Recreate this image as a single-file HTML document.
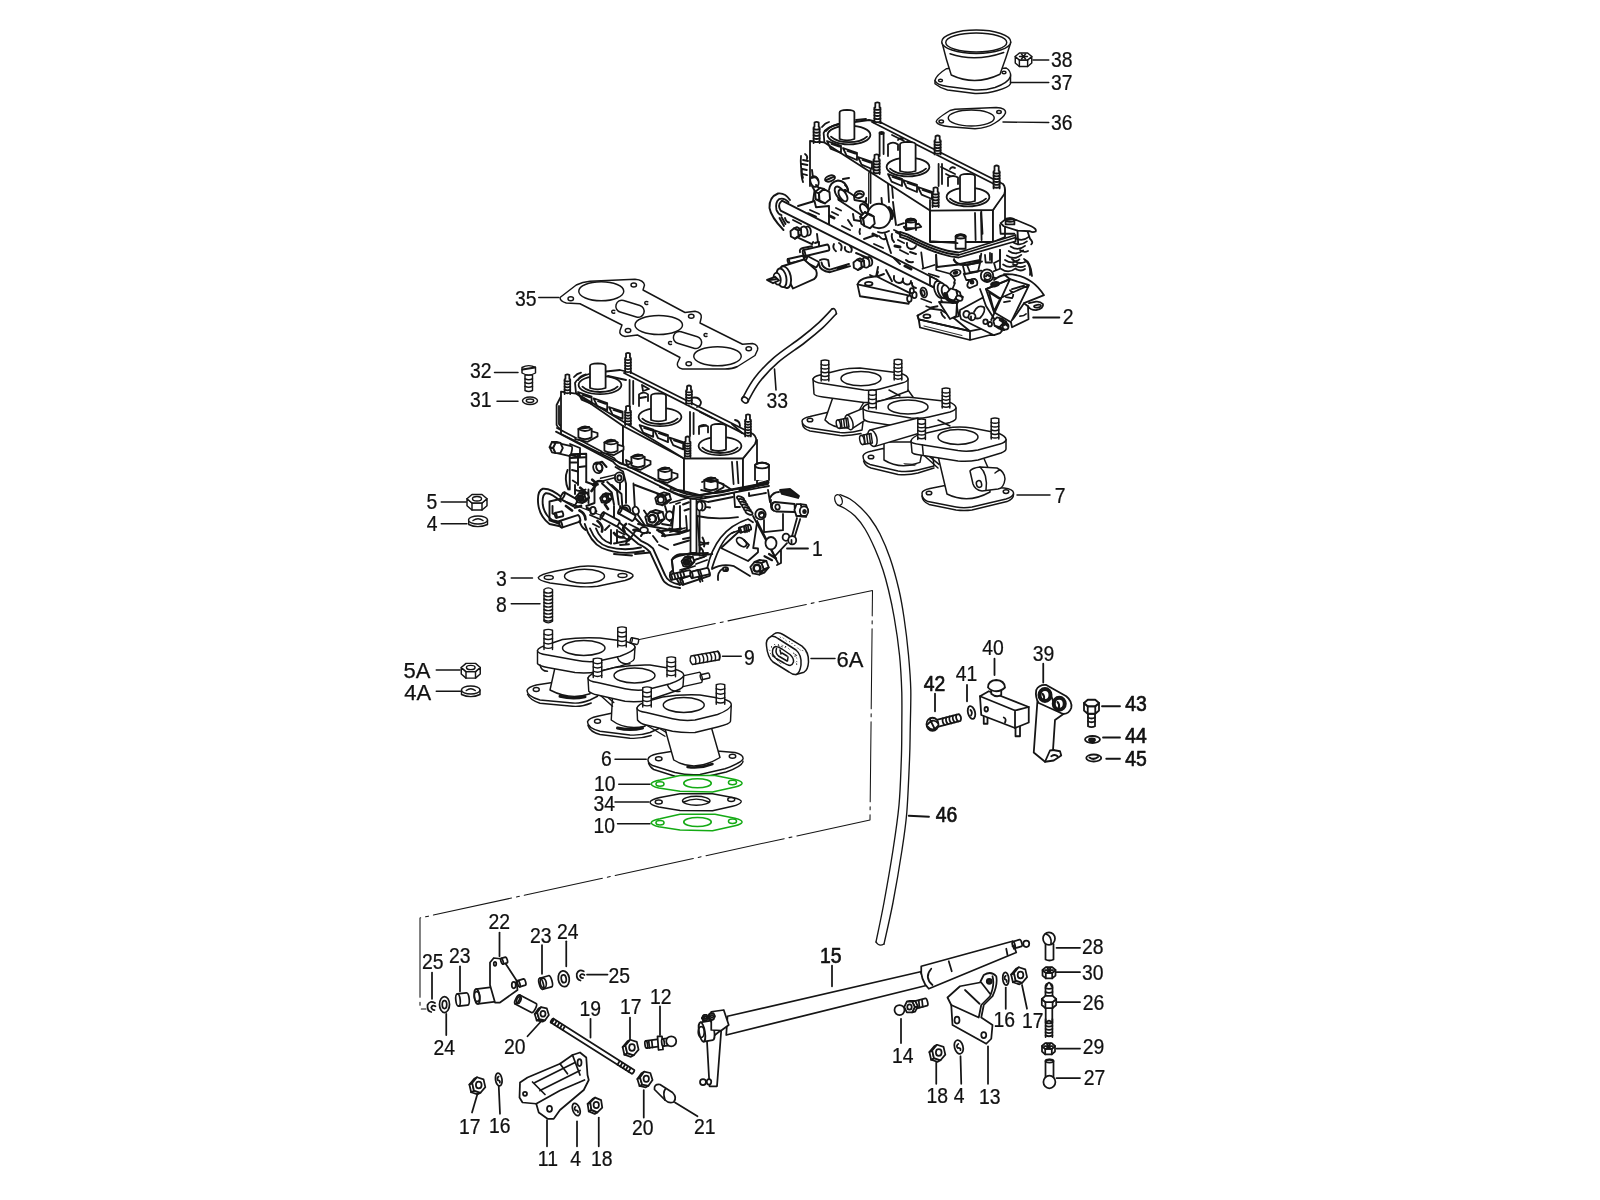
<!DOCTYPE html>
<html><head><meta charset="utf-8"><title>Parts diagram</title>
<style>
html,body{margin:0;padding:0;background:#fff;}
body{width:1600px;height:1200px;overflow:hidden;position:relative;}
svg{position:absolute;left:0;top:0;}
.ln{stroke:#151515;fill:none;stroke-width:1.4;stroke-linecap:round;stroke-linejoin:round;}
.tx{font-family:"Liberation Sans",sans-serif;fill:#111;stroke:none;}
</style></head><body>
<svg width="1600" height="1200" viewBox="0 0 1600 1200">
<g class="ln">
<g transform="translate(700,0) scale(0.25)" stroke-width="5.80" ><path d="M940,322 L940,335 Q960,352 990,360 L1100,374 Q1150,375 1190,362 Q1235,350 1242,335 L1242,300" fill="#fff" /><path d="M940,322 Q945,300 985,275 L1010,272 L1195,275 L1225,272 Q1245,285 1242,305 Q1235,330 1180,350 Q1140,362 1100,360 L990,346 Q945,340 940,322Z" fill="#fff" /><ellipse cx="962" cy="322" rx="8" ry="5" fill="none" /><ellipse cx="1216" cy="290" rx="8" ry="5" fill="none" /><path d="M968,170 Q985,240 1005,300 Q1100,345 1200,297 Q1225,230 1243,170Z" fill="#fff" /><ellipse cx="1105" cy="167" rx="138" ry="47" fill="#fff" /><ellipse cx="1105" cy="170" rx="122" ry="38" fill="none" /><path d="M1000,215 Q1100,250 1215,210" fill="none" /><path d="M1261.0,226.0 L1261.0,252.0 L1277.5,266.3 L1310.5,266.3 L1327.0,252.0 L1327.0,226.0 L1310.5,240.3 L1277.5,240.3 L1261.0,226.0" fill="#fff" /><path d="M1327.0,226.0 L1310.5,240.3 L1277.5,240.3 L1261.0,226.0 L1277.5,211.7 L1310.5,211.7Z" fill="#fff" /><path d="M1277.5,240.3 l0,26.0 M1310.5,240.3 l0,26.0" fill="none" /><path d="M1278,226 l32,0 M1286,216 l16,20 M1302,216 l-16,20" fill="none" /><path d="M1332,240 L1395,240" fill="none" /><path d="M1242,330 L1395,330" fill="none" /><path d="M1212,488 L1395,490" fill="none" /><path d="M945,487 Q945,475 1000,442 L1020,437 L1185,430 Q1225,432 1222,452 Q1215,470 1180,492 Q1150,512 1100,515 L1000,507 Q950,502 945,487Z" fill="#fff" /><ellipse cx="1085" cy="472" rx="92" ry="32" fill="none" /><ellipse cx="965" cy="486" rx="9" ry="6" fill="none" /><ellipse cx="1196" cy="448" rx="9" ry="6" fill="none" /></g>
<g transform="translate(400,250) scale(0.25)" stroke-width="5.80" ><path d="M640,190 L705,140 Q730,128 760,125 L940,117 Q975,120 978,140 L972,160 L1140,250 L1180,245 Q1208,250 1205,270 L1200,292 L1370,377 L1410,374 Q1435,380 1430,400 L1420,422 L1350,466 Q1330,476 1300,476 L1130,476 Q1105,470 1110,452 L1120,430 L950,340 L900,346 Q875,340 880,322 L888,300 L720,215 L665,212 Q640,205 640,190Z" fill="#fff" /><ellipse cx="805" cy="165" rx="90" ry="38" fill="none" /><ellipse cx="1035" cy="300" rx="95" ry="38" fill="none" /><ellipse cx="1270" cy="425" rx="95" ry="38" fill="none" /><rect x="862" y="211" width="116" height="48" rx="24" fill="none" transform="rotate(17 920 235)"/><rect x="1092" y="336" width="116" height="48" rx="24" fill="none" transform="rotate(17 1150 360)"/><ellipse cx="683" cy="195" rx="11" ry="8" fill="none" /><ellipse cx="935" cy="140" rx="11" ry="8" fill="none" /><ellipse cx="912" cy="322" rx="11" ry="8" fill="none" /><ellipse cx="1165" cy="265" rx="11" ry="8" fill="none" /><ellipse cx="1155" cy="455" rx="11" ry="8" fill="none" /><ellipse cx="1395" cy="395" rx="11" ry="8" fill="none" /><path d="M859,242 q-12,-3 -12,5 q2,8 12,5" fill="none" /><path d="M991,207 q-12,-3 -12,5 q2,8 12,5" fill="none" /><path d="M1086,367 q-12,-3 -12,5 q2,8 12,5" fill="none" /><path d="M1228,335 q-12,-3 -12,5 q2,8 12,5" fill="none" /><path d="M555,190 L635,190" fill="none" /><path d="M500,500 L500,562 Q515,570 530,562 L530,500Z" fill="#fff" /><path d="M500,515 q15,8 30,0 M500,530 q15,8 30,0 M500,545 q15,8 30,0" fill="none" /><path d="M488,492 L488,470 Q515,455 542,470 L542,492 Q515,508 488,492Z" fill="#fff" /><path d="M490,478 L540,470" fill="none" stroke-width="9"/><path d="M378,490 L472,490" fill="none" /><ellipse cx="520" cy="603" rx="30" ry="15" fill="#fff" /><ellipse cx="520" cy="603" rx="15" ry="7" fill="none" /><path d="M388,605 L472,605" fill="none" /><path d="M268.0,995.0 L268.0,1023.0 L288.0,1040.3 L328.0,1040.3 L348.0,1023.0 L348.0,995.0 L328.0,1012.3 L288.0,1012.3 L268.0,995.0" fill="#fff" /><path d="M348.0,995.0 L328.0,1012.3 L288.0,1012.3 L268.0,995.0 L288.0,977.7 L328.0,977.7Z" fill="#fff" /><path d="M288.0,1012.3 l0,28.0 M328.0,1012.3 l0,28.0" fill="none" /><ellipse cx="308" cy="995" rx="18.0" ry="9.0" fill="none" /><path d="M165,1008 L265,1008" fill="none" /><path d="M275,1080 L275,1098 Q310,1115 350,1098 L350,1080" fill="#fff" /><ellipse cx="312" cy="1080" rx="38" ry="16" fill="#fff" /><path d="M292,1082 Q312,1068 332,1082" fill="none" /><path d="M165,1095 L268,1095" fill="none" /></g>
<g transform="translate(0,0) scale(1)" stroke-width="1.60" ><path d="M747.7,401.6 C749.7,398.4 754.5,388.5 759.5,382.0 C764.6,375.4 770.5,369.0 778.1,362.4 C785.7,355.8 797.5,348.4 805.0,342.5 C812.5,336.7 817.9,332.2 823.2,327.4 C828.4,322.6 834.1,316.0 836.3,313.7" fill="none" /><path d="M742.3,398.4 C744.3,395.0 749.2,384.8 754.5,378.0 C759.7,371.2 766.1,364.3 773.9,357.6 C781.7,350.8 793.5,343.3 801.0,337.5 C808.5,331.7 813.7,327.3 818.8,322.6 C823.9,317.9 829.6,311.5 831.7,309.3" fill="none" /><path d="M831.5,309.2 Q835.5,307 836.5,313.8" fill="none" /><ellipse cx="745" cy="400" rx="3.6" ry="2.6" fill="none" transform="rotate(35 745 400)" /><path d="M774.5,369 L776,390" fill="none" /></g>
<g transform="translate(0,0) scale(1)" stroke-width="1.35" ><path d="M637,640 L872.5,590.5 L870,820 L420,918 L420,1009 L426,1009" fill="none" stroke-dasharray="80 5 3 5" stroke-width="1.05"/><path d="M840.0,494.5 C841.7,495.2 846.7,496.9 850.0,499.0 C853.3,501.1 856.7,503.8 860.0,507.0 C863.3,510.2 866.7,513.5 870.0,518.0 C873.3,522.5 876.7,527.3 880.0,534.0 C883.3,540.7 886.8,548.7 890.0,558.0 C893.2,567.3 896.7,580.1 899.0,590.0 C901.3,599.9 902.4,606.7 904.0,617.5 C905.6,628.3 907.4,642.9 908.5,655.0 C909.6,667.1 910.5,677.5 910.8,690.0 C911.0,702.5 910.4,718.3 910.2,730.0 C910.0,741.7 910.1,746.2 909.5,760.0 C908.9,773.8 908.0,797.5 906.8,812.5 C905.5,827.5 904.3,835.0 902.0,850.0 C899.7,865.0 896.0,886.8 893.0,902.5 C890.0,918.2 885.5,937.1 884.0,944.0" fill="none" /><path d="M837.5,505.0 C838.8,505.6 842.1,506.7 845.0,508.5 C847.9,510.3 851.7,512.6 855.0,516.0 C858.3,519.4 861.7,523.5 865.0,529.0 C868.3,534.5 872.0,542.2 875.0,549.0 C878.0,555.8 880.8,563.2 883.0,570.0 C885.2,576.8 886.6,582.1 888.5,590.0 C890.4,597.9 892.4,606.7 894.2,617.5 C896.1,628.3 898.2,642.5 899.5,655.0 C900.8,667.5 901.4,680.0 901.8,692.5 C902.1,705.0 901.8,718.8 901.8,730.0 C901.7,741.2 901.8,747.5 901.3,760.0 C900.8,772.5 900.4,790.0 899.0,805.0 C897.6,820.0 895.5,833.8 893.0,850.0 C890.5,866.2 886.8,887.2 884.0,902.5 C881.2,917.8 877.3,935.4 876.0,942.0" fill="none" /><ellipse cx="838.5" cy="500" rx="3.5" ry="5.5" fill="none" transform="rotate(-20 838.5 500)" /><path d="M876,942 Q879,947 884,944" fill="none" /></g>
<g transform="translate(760,90) scale(0.2)" stroke-width="9.00" ><path d="M250,255 L250,480 L330,560 L545,640 L545,415 L322,262Z" fill="#fff" stroke="none"/><path d="M250,480 L250,255 L322,262 M545,415 L545,600" fill="none" /><path d="M205,330 Q200,380 215,440 M225,320 Q240,330 235,345 M215,350 l25,5 M212,370 l25,5 M212,395 l22,5 M215,420 l20,6" fill="none" /><path d="M545,415 L545,640 L850,790 L850,600Z" fill="#fff" stroke="none"/><path d="M850,600 L850,760 L1165,760 L1165,600Z" fill="#fff" /><path d="M1165,600 L1165,760 L1225,735 L1225,500Z" fill="#fff" /><path d="M1075,615 L1078,750 M1105,615 L1108,750" fill="none" /><path d="M640,470 L645,560 M660,480 L665,540" fill="none" /><path d="M322,262 L318,215 Q330,185 400,170 L545,150 L610,165 L1215,470 Q1230,485 1222,520 L1165,600 L850,603 Z" fill="#fff" /><path d="M330,205 Q350,175 420,165 M560,160 L1190,480" fill="none" /><path d="M335,255 l70,24 l0,36 l-52,-22Z M357,269 l40,14" fill="none" /><path d="M415,290 l70,24 l0,36 l-52,-22Z M437,304 l40,14" fill="none" /><path d="M490,335 l70,24 l0,36 l-52,-22Z M512,349 l40,14" fill="none" /><path d="M640,420 l70,24 l0,36 l-52,-22Z M662,434 l40,14" fill="none" /><path d="M715,450 l70,24 l0,36 l-52,-22Z M737,464 l40,14" fill="none" /><path d="M790,485 l70,24 l0,36 l-52,-22Z M812,499 l40,14" fill="none" /><path d="M660,225 l60,30 M690,250 q10,-15 25,-5 M905,385 l70,35 M950,395 q10,-15 25,-5 M930,420 l40,20" fill="none" /><path d="M640,330 L640,272 Q665,255 690,272 L690,300" fill="#fff" /><path d="M940,480 L940,438 Q965,422 990,438 L990,470" fill="#fff" /><ellipse cx="445" cy="225" rx="107" ry="47" fill="#fff" /><path d="M355,233 Q385,261 445,261 Q505,261 535,233" fill="none" /><ellipse cx="740" cy="385" rx="107" ry="47" fill="#fff" /><path d="M650,393 Q680,421 740,421 Q800,421 830,393" fill="none" /><ellipse cx="1040" cy="535" rx="107" ry="47" fill="#fff" /><path d="M950,543 Q980,571 1040,571 Q1100,571 1130,543" fill="none" /><path d="M398,245 L398,112 Q398,100 435.0,99 Q472,100 472,112 L472,245 Q435.0,259 398,245Z" fill="#fff" /><path d="M700,405 L700,272 Q700,260 739.0,259 Q778,260 778,272 L778,405 Q739.0,419 700,405Z" fill="#fff" /><path d="M1000,555 L1000,432 Q1000,420 1037.5,419 Q1075,420 1075,432 L1075,555 Q1037.5,569 1000,555Z" fill="#fff" /><path d="M598,215 L598,330 M618,215 L618,320 M893,370 L893,480 M910,370 L910,470" fill="none" /><ellipse cx="608" cy="215" rx="10" ry="5" fill="none" /><g><path d="M268.0,265 L268.0,186.25 L272.5,184.25 L272.5,163 Q283,156 293.5,163 L293.5,184.25 L298.0,186.25 L298.0,265" fill="#fff" /><path d="M268.0,194.125 Q283,201.625 298.0,194.125" fill="none" /><path d="M268.0,209.875 Q283,217.375 298.0,209.875" fill="none" /><path d="M268.0,225.625 Q283,233.125 298.0,225.625" fill="none" /><path d="M268.0,241.375 Q283,248.875 298.0,241.375" fill="none" /><path d="M268.0,257.125 Q283,264.625 298.0,257.125" fill="none" /></g><g><path d="M572.0,165 L572.0,87.75 L576.5,85.75 L576.5,65 Q587,58 597.5,65 L597.5,85.75 L602.0,87.75 L602.0,165" fill="#fff" /><path d="M572.0,95.475 Q587,102.975 602.0,95.475" fill="none" /><path d="M572.0,110.925 Q587,118.425 602.0,110.925" fill="none" /><path d="M572.0,126.375 Q587,133.875 602.0,126.375" fill="none" /><path d="M572.0,141.825 Q587,149.325 602.0,141.825" fill="none" /><path d="M572.0,157.275 Q587,164.775 602.0,157.275" fill="none" /></g><g><path d="M568.0,420 L568.0,346.5 L572.5,344.5 L572.5,325 Q583,318 593.5,325 L593.5,344.5 L598.0,346.5 L598.0,420" fill="#fff" /><path d="M568.0,353.85 Q583,361.35 598.0,353.85" fill="none" /><path d="M568.0,368.55 Q583,376.05 598.0,368.55" fill="none" /><path d="M568.0,383.25 Q583,390.75 598.0,383.25" fill="none" /><path d="M568.0,397.95 Q583,405.45 598.0,397.95" fill="none" /><path d="M568.0,412.65 Q583,420.15 598.0,412.65" fill="none" /></g><g><path d="M873.0,322 L873.0,251.5 L877.5,249.5 L877.5,231 Q888,224 898.5,231 L898.5,249.5 L903.0,251.5 L903.0,322" fill="#fff" /><path d="M873.0,258.55 Q888,266.05 903.0,258.55" fill="none" /><path d="M873.0,272.65 Q888,280.15 903.0,272.65" fill="none" /><path d="M873.0,286.75 Q888,294.25 903.0,286.75" fill="none" /><path d="M873.0,300.85 Q888,308.35 903.0,300.85" fill="none" /><path d="M873.0,314.95 Q888,322.45 903.0,314.95" fill="none" /></g><g><path d="M863.0,585 L863.0,511.5 L867.5,509.5 L867.5,490 Q878,483 888.5,490 L888.5,509.5 L893.0,511.5 L893.0,585" fill="#fff" /><path d="M863.0,518.85 Q878,526.35 893.0,518.85" fill="none" /><path d="M863.0,533.55 Q878,541.05 893.0,533.55" fill="none" /><path d="M863.0,548.25 Q878,555.75 893.0,548.25" fill="none" /><path d="M863.0,562.95 Q878,570.45 893.0,562.95" fill="none" /><path d="M863.0,577.65 Q878,585.15 893.0,577.65" fill="none" /></g><g><path d="M1168.0,492 L1168.0,406.5 L1172.5,404.5 L1172.5,381 Q1183,374 1193.5,381 L1193.5,404.5 L1198.0,406.5 L1198.0,492" fill="#fff" /><path d="M1168.0,413.625 Q1183,421.125 1198.0,413.625" fill="none" /><path d="M1168.0,427.875 Q1183,435.375 1198.0,427.875" fill="none" /><path d="M1168.0,442.125 Q1183,449.625 1198.0,442.125" fill="none" /><path d="M1168.0,456.375 Q1183,463.875 1198.0,456.375" fill="none" /><path d="M1168.0,470.625 Q1183,478.125 1198.0,470.625" fill="none" /><path d="M1168.0,484.875 Q1183,492.375 1198.0,484.875" fill="none" /></g><path d="M310,185 q15,-20 35,-25 M480,150 l50,-5" fill="none" /></g>
<g transform="translate(760,170) scale(0.1)" stroke-width="19.00" ><path d="M415,0 Q408,50 430,120 M520,0 L530,80 M380,360 L530,315 L545,210 M690,360 L690,540 M545,310 L560,372 L690,360 M500,400 l90,40 M480,432 l80,35" fill="none" /><path d="M1105,0 L1105,330" fill="none" /><path d="M1340,600 L1600,722 M1360,622 L1600,745 M1380,552 l60,-20" fill="none" /><path d="M1180,620 Q1230,642 1290,610 M1190,660 q30,40 60,30 M1250,640 L1280,740 L1310,830 M1040,690 l100,-35 M1140,740 l90,40 M1000,590 q-10,30 0,50" fill="none" /><path d="M1215,280 l5,60 M1330,320 l10,80 l20,150" fill="none" /><path d="M1460,600 L1460,510 Q1510,480 1560,510 L1560,600" fill="#fff" /><ellipse cx="1510" cy="512" rx="50" ry="20" fill="none" /><path d="M1475,515 l70,-10" fill="none" stroke-width="20"/><path d="M1470,730 q-10,50 40,60 q40,0 50,-30" fill="none" /><ellipse cx="545" cy="115" rx="40" ry="55" fill="#fff" transform="rotate(-20 545 115)" /><path d="M520,80 q40,-20 60,20" fill="none" /><path d="M560,150 L610,200 M520,160 L560,230" fill="none" /><path d="M650.3,333.7 L594.9,303.3 L556.9,291.3 L612.3,321.7Z" fill="#fff" /><path d="M594.9,303.3 L589.5,231.6 L551.5,219.6 L556.9,291.3Z" fill="#fff" /><path d="M589.5,231.6 L639.7,190.3 L601.7,178.3 L551.5,219.6Z" fill="#fff" /><path d="M700.5,292.4 L650.3,333.7 L594.9,303.3 L589.5,231.6 L639.7,190.3 L695.1,220.7Z" fill="#fff" /><ellipse cx="700" cy="85" rx="52" ry="28" fill="#fff" transform="rotate(-20 700 85)" /><path d="M665,100 L735,68" fill="none" stroke-width="20"/><path d="M690,200 Q700,120 780,105 Q860,110 880,200" fill="#fff" /><path d="M830,90 l60,-10 M850,150 q30,20 30,60" fill="none" stroke-width="20"/><g transform="translate(820,250) rotate(33.4)"><path d="M0,-60.0 L263.5,-60.0 A18.0,60.0 0 0 1 263.5,60.0 L0,60.0 A18.0,60.0 0 0 1 0,-60.0Z" fill="#fff" /><path d="M0,-60.0 A18.0,60.0 0 0 1 0,60.0" fill="none" /></g><ellipse cx="800" cy="235" rx="40" ry="78" fill="#fff" transform="rotate(-32 800 235)" /><ellipse cx="830" cy="255" rx="34" ry="66" fill="#fff" transform="rotate(-32 830 255)" /><ellipse cx="1045" cy="398" rx="36" ry="64" fill="#fff" transform="rotate(-32 1045 398)" /><path d="M930,440 l10,60 l60,10" fill="none" /><path d="M940,262 L945,300 L1060,320 L1062,280" fill="#fff" /><ellipse cx="992" cy="245" rx="48" ry="34" fill="#fff" transform="rotate(-15 992 245)" /><path d="M960,255 q30,-35 60,-10" fill="none" stroke-width="20"/><ellipse cx="1190" cy="460" rx="118" ry="122" fill="#fff" /><path d="M1290,375 Q1345,430 1318,485" fill="none" stroke-width="28"/><path d="M1043.1,558.3 L1032.5,487.4 L1002.5,467.4 L1013.1,538.3Z" fill="#fff" /><path d="M1032.5,487.4 L1079.4,441.1 L1049.4,421.1 L1002.5,467.4Z" fill="#fff" /><path d="M1079.4,441.1 L1136.9,465.7 L1106.9,445.7 L1049.4,421.1Z" fill="#fff" /><path d="M1147.5,536.6 L1100.6,582.9 L1043.1,558.3 L1032.5,487.4 L1079.4,441.1 L1136.9,465.7Z" fill="#fff" /><ellipse cx="478" cy="610" rx="30" ry="45" fill="#fff" transform="rotate(-10 478 610)" /><ellipse cx="440" cy="617" rx="36" ry="52" fill="#fff" transform="rotate(-10 440 617)" /><path d="M385.1,657.0 L348.9,686.8 L376.9,674.8 L413.1,645.0Z" fill="#fff" /><path d="M341.1,583.2 L381.2,605.2 L409.2,593.2 L369.1,571.2Z" fill="#fff" /><path d="M381.2,605.2 L385.1,657.0 L413.1,645.0 L409.2,593.2Z" fill="#fff" /><path d="M385.1,657.0 L348.9,686.8 L308.8,664.8 L304.9,613.0 L341.1,583.2 L381.2,605.2Z" fill="#fff" /><path d="M250,480 q10,40 40,45 M330,500 l80,40 M390,682 l130,60 l12,-22 M570,640 l10,80 l-30,10 M590,720 l0,40" fill="none" /><path d="M300,300 Q250,225 180,235 Q90,270 95,380 Q110,470 235,600 M285,322 Q240,272 190,292 Q150,322 165,400 Q180,440 215,452 M195,480 L240,560 M215,470 L255,540" fill="none" /><path d="M219,306 L1775,1100 L1731,1172 L206,406 Q170,350 219,306Z" fill="#fff" /><path d="M400,822 Q390,790 430,780 L520,762" fill="none" /><g transform="translate(440,832) rotate(-13.4)"><path d="M0,-31.0 L246.7,-31.0 A10.8,31.0 0 0 1 246.7,31.0 L0,31.0 A10.8,31.0 0 0 1 0,-31.0Z" fill="#fff" /><path d="M0,-31.0 A10.8,31.0 0 0 1 0,31.0" fill="none" /></g><g transform="translate(285,912) rotate(-12.4)"><path d="M0,-23.0 L148.5,-23.0 A8.0,23.0 0 0 1 148.5,23.0 L0,23.0 A8.0,23.0 0 0 1 0,-23.0Z" fill="#fff" /><path d="M0,-23.0 A8.0,23.0 0 0 1 0,23.0" fill="none" /></g><g transform="translate(455,885) rotate(27.6)"><path d="M0,-31.0 L129.7,-31.0 A10.8,31.0 0 0 1 129.7,31.0 L0,31.0 A10.8,31.0 0 0 1 0,-31.0Z" fill="#fff" /><path d="M0,-31.0 A10.8,31.0 0 0 1 0,31.0" fill="none" /></g><path d="M600,902 Q640,880 682,902 L692,962" fill="#fff" /><path d="M215,965 L440,895 L560,1000 Q582,1060 540,1092 L330,1185Z" fill="#fff" /><ellipse cx="250" cy="1072" rx="58" ry="110" fill="#fff" transform="rotate(-12 250 1072)" /><ellipse cx="215" cy="1078" rx="48" ry="95" fill="#fff" transform="rotate(-12 215 1078)" /><ellipse cx="172" cy="1087" rx="34" ry="60" fill="#fff" transform="rotate(-12 172 1087)" /><path d="M150,1068 L70,1100 L130,1132 L190,1105Z" fill="#fff" /><path d="M90,1100 l70,-8" fill="none" /><path d="M590,940 Q600,1012 700,1022 L900,962 M615,925 Q625,987 700,997 L890,940" fill="none" /><path d="M780,985 l80,-25" fill="none" stroke-width="26"/><path d="M740,740 Q720,780 760,812 M790,730 q40,20 20,72 M850,770 q-10,40 40,52 M900,760 q30,30 10,60" fill="none" /><ellipse cx="1092" cy="915" rx="30" ry="45" fill="#fff" transform="rotate(-10 1092 915)" /><ellipse cx="1058" cy="925" rx="36" ry="52" fill="#fff" transform="rotate(-10 1058 925)" /><path d="M1015.1,970.0 L978.9,999.8 L1006.9,987.8 L1043.1,958.0Z" fill="#fff" /><path d="M971.1,896.2 L1011.2,918.2 L1039.2,906.2 L999.1,884.2Z" fill="#fff" /><path d="M1011.2,918.2 L1015.1,970.0 L1043.1,958.0 L1039.2,906.2Z" fill="#fff" /><path d="M1015.1,970.0 L978.9,999.8 L938.8,977.8 L934.9,926.0 L971.1,896.2 L1011.2,918.2Z" fill="#fff" /><path d="M960,830 L1080,880 M1020,860 l60,30" fill="none" /><path d="M1100,1050 l60,30 l20,-60 M1180,970 l-20,100 l80,-30 M1260,1000 l60,112 M1340,1060 q-10,60 50,70 q40,0 40,-40 M1430,1085 q-10,50 40,60 q40,0 40,-35 M1520,1130 q-5,40 40,50" fill="none" /><path d="M720,420 l60,30 M760,380 l50,25 M880,500 l40,60 M820,560 l80,40 M1320,640 q-10,50 20,80 M1380,700 l60,30 M1400,800 l80,40 M1340,880 l60,60 M1460,900 q30,30 70,20 M1500,820 l60,20" fill="none" /><path d="M700,460 l40,20 M1130,640 l40,20 M1350,760 l50,10 M1450,960 l60,30" fill="none" stroke-width="30"/></g>
<g transform="translate(760,180) scale(0.125)" stroke-width="14.40" ><path d="M780,835 Q790,795 860,780 L930,770 L1200,905 L1190,990 L800,930Z" fill="#fff" /><path d="M780,835 L1195,925" fill="none" /><ellipse cx="870" cy="830" rx="30" ry="15" fill="none" /><ellipse cx="1195" cy="950" rx="18" ry="25" fill="#fff" /><ellipse cx="1235" cy="920" rx="18" ry="25" fill="#fff" /><ellipse cx="1215" cy="885" rx="16" ry="20" fill="#fff" /><ellipse cx="1310" cy="900" rx="25" ry="40" fill="#fff" transform="rotate(-15 1310 900)" /><ellipse cx="1305" cy="903" rx="12" ry="22" fill="none" transform="rotate(-15 1305 903)" /><path d="M1290,950 l80,30 M1330,1010 l60,20" fill="none" /></g>
<g transform="translate(900,200) scale(0.125)" stroke-width="14.40" ><path d="M170,420 L185,540 M290,440 L290,560 L400,590 M180,550 l95,-30 M230,590 l80,25 M430,480 Q450,520 520,520 L640,500 L650,430 M540,530 l20,50 l90,-15 M680,440 l5,60 l50,0 l0,-70 M800,400 l0,150 l-50,20" fill="none" /><path d="M510,590 L530,640 L600,640 M330,800 L400,950 L470,930 L450,830 M250,860 L300,850" fill="none" /><path d="M915,300 Q975,340 1030,295" fill="none" /><path d="M900,336 Q960,376 1015,331" fill="none" /><path d="M885,372 Q945,412 1000,367" fill="none" /><path d="M870,408 Q930,448 985,403" fill="none" /><path d="M855,444 Q915,484 970,439" fill="none" /><path d="M840,480 Q900,520 955,475" fill="none" /><path d="M825,516 Q885,556 940,511" fill="none" /><path d="M810,552 Q870,592 925,547" fill="none" /><path d="M1020,250 l20,60 q30,30 10,45 M1000,480 q50,40 40,120" fill="none" /><path d="M805,185 L850,150 L930,160 L1050,210 Q1095,232 1085,252 Q1060,262 1040,250 L940,245 L830,210Z" fill="#fff" /><path d="M800,200 l5,70 l110,0 M940,245 l5,100" fill="none" /><path d="M845,195 L845,160 Q880,135 915,160 L915,195Z" fill="#fff" /><ellipse cx="880" cy="160" rx="35" ry="15" fill="none" /><path d="M855,160 l50,-5" fill="none" /><path d="M0,255 L60,275 Q300,405 470,420 L925,280 L925,330 L470,460 Q300,445 60,315 L0,295Z" fill="#fff" /><path d="M0,275 L60,295 Q300,425 470,440 L925,300" fill="none" /><path d="M30,215 L150,190 L170,215 L50,240Z" fill="#fff" /><path d="M50,225 L50,165 Q85,135 125,165 L125,225Z" fill="#fff" /><ellipse cx="87" cy="165" rx="37" ry="15" fill="none" /><path d="M60,168 l55,-8" fill="none" /><path d="M445,390 L445,290 Q485,260 525,290 L525,390Z" fill="#fff" /><ellipse cx="485" cy="292" rx="40" ry="16" fill="none" /><path d="M455,290 q30,-20 60,0" fill="none" stroke-width="20"/><path d="M650,90 L660,270 M240,0 L240,330 L460,345" fill="none" /><path d="M1065,940 L1275,940" fill="none" /></g>
<g transform="translate(930,250) scale(0.1)" stroke-width="18.00" ><path d="M60,50 L70,170 L330,140 M240,90 Q250,130 300,140 L500,100 L500,60 M330,160 L350,240 L480,215 L500,130 M370,150 L520,115 M600,30 L600,100 M700,0 L700,100 L640,130 L660,200" fill="none" /><path d="M-125,656 L0,587 L112,600 L250,690 L400,812 L-112,694Z" fill="#fff" /><path d="M-125,656 L-112,700 L-100,775 L400,900 L600,850 L640,852 M-112,694 L400,812 L400,900 M400,812 L600,772" fill="none" /><ellipse cx="-31" cy="662" rx="35" ry="18" fill="none" /><path d="M-60,760 l380,95" fill="none" stroke-width="9"/><path d="M90,520 L200,690 L262,660 L270,530Z" fill="#fff" /><path d="M110,620 q10,40 40,60" fill="none" /><path d="M250,330 L220,400 L330,470 M500,390 L530,470 M560,300 Q620,262 660,282" fill="none" /><ellipse cx="255" cy="230" rx="52" ry="30" fill="#fff" transform="rotate(-15 255 230)" /><ellipse cx="255" cy="228" rx="20" ry="10" fill="#1a1a1a" transform="rotate(-15 255 228)" /><path d="M215,250 L250,300 L240,330" fill="none" /><path d="M0,262 L75,300 L40,372 L0,352Z" fill="#fff" /><ellipse cx="95" cy="395" rx="50" ry="88" fill="#fff" transform="rotate(-18 95 395)" /><ellipse cx="125" cy="405" rx="45" ry="80" fill="#fff" transform="rotate(-18 125 405)" /><ellipse cx="160" cy="420" rx="40" ry="70" fill="#fff" transform="rotate(-18 160 420)" /><path d="M275.9,461.0 L236.4,504.9 L274.4,526.9 L313.9,483.0Z" fill="#fff" /><path d="M236.4,504.9 L182.5,488.8 L220.5,510.8 L274.4,526.9Z" fill="#fff" /><path d="M261.5,401.2 L275.9,461.0 L313.9,483.0 L299.5,423.2Z" fill="#fff" /><path d="M275.9,461.0 L236.4,504.9 L182.5,488.8 L168.1,429.0 L207.6,385.1 L261.5,401.2Z" fill="#fff" /><path d="M150,440 Q160,500 230,520" fill="none" stroke-width="40"/><ellipse cx="292" cy="482" rx="34" ry="24" fill="#fff" transform="rotate(20 292 482)" /><path d="M380,330 Q400,282 450,290 Q482,310 470,350 L400,380 Q360,372 380,330Z" fill="#fff" /><ellipse cx="420" cy="322" rx="15" ry="15" fill="none" /><path d="M412,322 q8,-12 18,0" fill="none" /><path d="M300,600 L530,475 L560,560 L720,810 L700,832 L640,852 L310,690 Q290,640 300,600Z" fill="#fff" /><ellipse cx="365" cy="642" rx="32" ry="34" fill="#fff" /><ellipse cx="420" cy="667" rx="35" ry="36" fill="#fff" /><path d="M410,665 l0,30" fill="none" /><path d="M440,620 Q480,540 540,572 Q560,620 500,680 Q470,690 450,680" fill="none" /><ellipse cx="555" cy="717" rx="22" ry="24" fill="#fff" /><ellipse cx="600" cy="742" rx="20" ry="22" fill="#fff" /><ellipse cx="570" cy="257" rx="62" ry="64" fill="#fff" /><ellipse cx="575" cy="262" rx="34" ry="36" fill="none" /><path d="M560,262 q15,-25 35,0 M545,300 q20,20 50,10" fill="none" stroke-width="22"/><path d="M740,242 Q1000,232 1140,452 L1040,492 L940,532 L810,722 L640,622 L560,392 L800,292Z" fill="#fff" /><path d="M560,392 L800,292 L990,352 L810,722 M560,392 L700,482 L990,352 M800,292 L612,700 M590,422 L700,492 L640,612Z M820,392 L940,357 M800,402 Q852,440 820,482 L760,472 M740,522 l60,-10 M640,300 Q700,250 760,250" fill="none" /><ellipse cx="650" cy="342" rx="40" ry="22" fill="#1a1a1a" transform="rotate(-10 650 342)" /><path d="M940,532 L980,562 Q1000,602 1060,602 Q1140,582 1130,542 Q1100,512 1060,517 L990,532" fill="#fff" /><ellipse cx="1075" cy="562" rx="35" ry="14" fill="none" transform="rotate(-8 1075 562)" /><path d="M980,562 L985,692 L820,772 L810,722" fill="#fff" /><path d="M900,662 q40,0 60,-22" fill="none" /><path d="M730.3,734.9 L694.9,770.3 L739.9,800.3 L775.3,764.9Z" fill="#fff" /><path d="M694.9,770.3 L646.6,757.4 L691.6,787.4 L739.9,800.3Z" fill="#fff" /><path d="M717.4,686.6 L730.3,734.9 L775.3,764.9 L762.4,716.6Z" fill="#fff" /><path d="M730.3,734.9 L694.9,770.3 L646.6,757.4 L633.7,709.1 L669.1,673.7 L717.4,686.6Z" fill="#fff" /><ellipse cx="755" cy="765" rx="30" ry="32" fill="#fff" /><path d="M700,700 l50,30 M735,750 q20,-20 40,5" fill="none" stroke-width="26"/><path d="M820,90 q60,60 130,30 M830,140 q60,50 120,20 M860,190 q50,30 90,0 M940,90 Q1010,120 1020,260 M900,0 q40,30 80,10" fill="none" /></g>
<g transform="translate(780,330) scale(0.2)" stroke-width="7.50" ><path d="M110,455 Q112,440 150,432 L235,412 L420,420 L410,500 Q350,517 300,512 L150,490 Q110,480 110,455Z" fill="#fff" /><path d="M112,470 Q115,495 150,505 L300,528 Q350,530 405,518" fill="none" /><ellipse cx="150" cy="450" rx="14" ry="9" fill="none" /><path d="M265,335 L225,450 Q260,492 345,490 L420,360Z" fill="#fff" /><path d="M165,245 L170,320 Q175,330 215,335 L420,362 Q470,365 520,350 L640,305 L640,245Z" fill="#fff" /><path d="M165,245 Q170,232 200,225 L300,200 Q340,190 400,190 L600,215 Q640,228 640,245 Q638,258 610,265 L500,295 Q460,305 420,300 L215,268 Q165,262 165,245Z" fill="#fff" /><ellipse cx="405" cy="243" rx="100" ry="36" fill="none" /><path d="M545,300 L600,330 M640,300 L665,335" fill="none" /><g><path d="M206.0,255 L206.0,162.6 L206.0,160.6 L206.0,153 Q225,146 244.0,153 L244.0,160.6 L244.0,162.6 L244.0,255" fill="#fff" /><path d="M206.0,171.84 Q225,181.34 244.0,171.84" fill="none" /><path d="M206.0,190.32 Q225,199.82 244.0,190.32" fill="none" /><path d="M206.0,208.8 Q225,218.3 244.0,208.8" fill="none" /><path d="M206.0,227.28 Q225,236.78 244.0,227.28" fill="none" /><path d="M206.0,245.76 Q225,255.26 244.0,245.76" fill="none" /></g><g><path d="M571.0,250 L571.0,159.36 L571.0,157.36 L571.0,150 Q590,143 609.0,150 L609.0,157.36 L609.0,159.36 L609.0,250" fill="#fff" /><path d="M571.0,168.424 Q590,177.924 609.0,168.424" fill="none" /><path d="M571.0,186.55200000000002 Q590,196.05200000000002 609.0,186.55200000000002" fill="none" /><path d="M571.0,204.68 Q590,214.18 609.0,204.68" fill="none" /><path d="M571.0,222.808 Q590,232.308 609.0,222.808" fill="none" /><path d="M571.0,240.936 Q590,250.436 609.0,240.936" fill="none" /></g><path d="M335,425 L425,388 L430,448 L355,497Z" fill="#fff" /><ellipse cx="345" cy="462" rx="18" ry="38" fill="#fff" transform="rotate(-18 345 462)" /><path d="M290,450 L338,440 L345,485 L297,492Z" fill="#fff" /><ellipse cx="292" cy="471" rx="10" ry="21" fill="#fff" transform="rotate(-12 292 471)" /><path d="M305,448 l5,42 M318,445 l5,42 M330,442 l5,42" fill="none" /><path d="M415,630 Q420,612 460,605 L515,592 L760,600 L770,680 L690,700 Q640,712 590,705 L450,672 Q415,660 415,630Z" fill="#fff" /><path d="M418,655 Q425,680 455,690 L590,722 Q640,728 690,715 L770,690" fill="none" /><ellipse cx="455" cy="635" rx="14" ry="9" fill="none" /><path d="M520,560 L520,650 Q600,700 700,662 L720,560Z" fill="#fff" /><path d="M620,668 l60,4 M625,675 l50,3" fill="none" stroke-width="4"/><path d="M415,390 L418,445 Q425,455 450,460 L655,492 Q700,497 745,488 L850,462 Q880,452 880,440 L880,390Z" fill="#fff" /><path d="M415,390 Q420,375 450,368 L540,345 Q600,335 660,337 L840,358 Q880,372 880,390 Q875,402 850,410 L745,435 Q700,445 655,440 L450,408 Q415,402 415,390Z" fill="#fff" /><ellipse cx="640" cy="385" rx="100" ry="35" fill="none" /><path d="M790,450 L850,480 M650,460 L700,495" fill="none" /><g><path d="M443.0,395 L443.0,311.4 L443.0,309.4 L443.0,303 Q462,296 481.0,303 L481.0,309.4 L481.0,311.4 L481.0,395" fill="#fff" /><path d="M443.0,321.84999999999997 Q462,331.34999999999997 481.0,321.84999999999997" fill="none" /><path d="M443.0,342.75 Q462,352.25 481.0,342.75" fill="none" /><path d="M443.0,363.65 Q462,373.15 481.0,363.65" fill="none" /><path d="M443.0,384.55 Q462,394.05 481.0,384.55" fill="none" /></g><g><path d="M811.0,390 L811.0,302.0 L811.0,300.0 L811.0,293 Q830,286 849.0,293 L849.0,300.0 L849.0,302.0 L849.0,390" fill="#fff" /><path d="M811.0,310.8 Q830,320.3 849.0,310.8" fill="none" /><path d="M811.0,328.4 Q830,337.9 849.0,328.4" fill="none" /><path d="M811.0,346.0 Q830,355.5 849.0,346.0" fill="none" /><path d="M811.0,363.6 Q830,373.1 849.0,363.6" fill="none" /><path d="M811.0,381.2 Q830,390.7 849.0,381.2" fill="none" /></g><path d="M450,500 L690,440 L700,515 L475,582Z" fill="#fff" /><ellipse cx="462" cy="541" rx="22" ry="42" fill="#fff" transform="rotate(-15 462 541)" /><path d="M405,527 L455,517 L462,565 L412,572Z" fill="#fff" /><ellipse cx="410" cy="550" rx="11" ry="23" fill="#fff" transform="rotate(-12 410 550)" /><path d="M420,524 l6,46 M433,521 l6,46 M446,519 l6,46" fill="none" /><path d="M710,815 Q712,800 750,792 L825,778 L1120,790 Q1165,795 1168,815 Q1165,835 1130,845 L960,885 Q920,892 880,885 L740,858 Q708,845 710,815Z" fill="#fff" /><path d="M710,830 Q712,858 745,872 L880,900 Q920,905 960,900 L1135,858 Q1168,845 1168,820" fill="none" /><ellipse cx="745" cy="815" rx="14" ry="9" fill="none" /><ellipse cx="1130" cy="808" rx="14" ry="9" fill="none" /><path d="M790,630 L835,820 Q940,872 1050,810 L1045,700 L1010,620Z" fill="#fff" /><path d="M718,625 L790,690 M735,622 L795,672" fill="none" /><path d="M950,705 Q960,690 1000,685 L1085,690 Q1125,710 1125,745 Q1120,790 1090,795 L1010,805 Q975,800 965,770 Z" fill="#fff" /><path d="M1000,685 Q1040,720 1030,800 M1075,715 Q1095,700 1100,700" fill="none" /><ellipse cx="995" cy="770" rx="13" ry="17" fill="none" transform="rotate(-15 995 770)" /><path d="M655,555 L660,612 Q665,622 700,625 L890,655 Q940,660 990,650 L1105,615 Q1130,605 1130,595 L1130,548Z" fill="#fff" /><path d="M655,555 Q660,535 700,522 L830,492 Q890,480 960,490 L1090,515 Q1130,530 1130,548 Q1128,562 1100,570 L990,600 Q940,610 890,603 L700,572 Q655,568 655,555 Z" fill="#fff" /><ellipse cx="890" cy="535" rx="100" ry="37" fill="none" /><path d="M712,575 L716,622" fill="none" /><g><path d="M689.0,548 L689.0,457.36 L689.0,455.36 L689.0,448 Q708,441 727.0,448 L727.0,455.36 L727.0,457.36 L727.0,548" fill="#fff" /><path d="M689.0,466.42400000000004 Q708,475.92400000000004 727.0,466.42400000000004" fill="none" /><path d="M689.0,484.552 Q708,494.052 727.0,484.552" fill="none" /><path d="M689.0,502.68 Q708,512.1800000000001 727.0,502.68" fill="none" /><path d="M689.0,520.808 Q708,530.308 727.0,520.808" fill="none" /><path d="M689.0,538.936 Q708,548.436 727.0,538.936" fill="none" /></g><g><path d="M1056.0,545 L1056.0,452.6 L1056.0,450.6 L1056.0,443 Q1075,436 1094.0,443 L1094.0,450.6 L1094.0,452.6 L1094.0,545" fill="#fff" /><path d="M1056.0,461.84000000000003 Q1075,471.34000000000003 1094.0,461.84000000000003" fill="none" /><path d="M1056.0,480.32 Q1075,489.82 1094.0,480.32" fill="none" /><path d="M1056.0,498.8 Q1075,508.3 1094.0,498.8" fill="none" /><path d="M1056.0,517.28 Q1075,526.78 1094.0,517.28" fill="none" /><path d="M1056.0,535.76 Q1075,545.26 1094.0,535.76" fill="none" /></g><path d="M1185,825 L1350,825" fill="none" /></g>
<g transform="translate(530,440) scale(0.15)" stroke-width="12.67" ><path d="M265,95 L265,330 M320,100 L320,300 M375,92 L375,280 M265,95 L375,92 M250,200 Q225,260 255,330" fill="none" /><path d="M280,200 l40,10 M330,180 l40,-5 M285,270 l30,20" fill="none" /><path d="M130,410 L130,535 L200,560 M130,410 L215,390 M150,440 L150,490 L200,505" fill="none" /><path d="M215,385 Q140,320 85,325 Q45,340 55,430 Q65,510 130,560 L200,575 M205,410 Q140,350 105,355 Q80,365 85,430 Q95,500 150,535 L195,545" fill="none" /><g transform="translate(218,372) rotate(29.3)"><path d="M0,-26.0 L94.0,-26.0 A9.1,26.0 0 0 1 94.0,26.0 L0,26.0 A9.1,26.0 0 0 1 0,-26.0Z" fill="#fff" /><path d="M0,-26.0 A9.1,26.0 0 0 1 0,26.0" fill="none" /></g><g transform="translate(172,502) rotate(-13.1)"><path d="M0,-17.0 L44.1,-17.0 A5.9,17.0 0 0 1 44.1,17.0 L0,17.0 A5.9,17.0 0 0 1 0,-17.0Z" fill="#fff" /><path d="M0,-17.0 A5.9,17.0 0 0 1 0,17.0" fill="none" /></g><g transform="translate(205,562) rotate(-18.4)"><path d="M0,-23.0 L126.5,-23.0 A8.0,23.0 0 0 1 126.5,23.0 L0,23.0 A8.0,23.0 0 0 1 0,-23.0Z" fill="#fff" /><path d="M0,-23.0 A8.0,23.0 0 0 1 0,23.0" fill="none" /></g><path d="M375,280 L430,300 L430,420 L375,440 M300,300 L300,360 M390,330 l0,90" fill="none" /><path d="M371.5,393.9 L349.6,419.9 L371.6,409.9 L393.5,383.9Z" fill="#fff" /><path d="M326.4,356.1 L359.9,362.0 L381.9,352.0 L348.4,346.1Z" fill="#fff" /><path d="M359.9,362.0 L371.5,393.9 L393.5,383.9 L381.9,352.0Z" fill="#fff" /><path d="M371.5,393.9 L349.6,419.9 L316.1,414.0 L304.5,382.1 L326.4,356.1 L359.9,362.0Z" fill="#fff" /><ellipse cx="338" cy="388" rx="18.700000000000003" ry="18.700000000000003" fill="none" /><ellipse cx="338" cy="388" rx="16" ry="16" fill="#1a1a1a" /><path d="M526.5,397.2 L507.3,420.2 L527.3,410.2 L546.5,387.2Z" fill="#fff" /><path d="M486.7,363.8 L516.3,369.0 L536.3,359.0 L506.7,353.8Z" fill="#fff" /><path d="M516.3,369.0 L526.5,397.2 L546.5,387.2 L536.3,359.0Z" fill="#fff" /><path d="M526.5,397.2 L507.3,420.2 L477.7,415.0 L467.5,386.8 L486.7,363.8 L516.3,369.0Z" fill="#fff" /><ellipse cx="497" cy="392" rx="16.5" ry="16.5" fill="none" /><path d="M420,300 Q450,260 490,280" fill="none" stroke-width="16"/><ellipse cx="452" cy="185" rx="30" ry="36" fill="#fff" transform="rotate(-20 452 185)" /><ellipse cx="462" cy="182" rx="20" ry="26" fill="none" transform="rotate(-20 462 182)" /><path d="M430,160 l50,-15 l30,35" fill="none" stroke-width="14"/><path d="M470,255 L565,232 M478,275 L570,250" fill="none" stroke-width="9"/><path d="M480,290 L545,350 L560,430 M515,280 L580,340 L592,430 M545,300 L610,360 L615,440" fill="none" /><ellipse cx="596" cy="250" rx="30" ry="34" fill="#fff" /><ellipse cx="596" cy="252" rx="14" ry="17" fill="none" /><path d="M600,285 L600,330 M570,180 L620,210 L640,290 L640,420" fill="none" /><path d="M560,440 L560,520 M600,440 L610,500" fill="none" /><ellipse cx="640" cy="470" rx="28" ry="36" fill="#fff" /><path d="M625,450 q20,-5 30,20" fill="none" stroke-width="14"/><g transform="translate(600,470) rotate(29.1)"><path d="M0,-22.0 L103.0,-22.0 A7.7,22.0 0 0 1 103.0,22.0 L0,22.0 A7.7,22.0 0 0 1 0,-22.0Z" fill="#fff" /><path d="M0,-22.0 A7.7,22.0 0 0 1 0,22.0" fill="none" /></g><path d="M590,545 L740,672 Q790,692 820,722 L900,900 Q920,950 1000,965 M575,570 L720,692 Q770,712 800,747 L880,920 Q900,975 1000,987" fill="none" /><g transform="translate(482,500) rotate(28.5)"><path d="M0,-21.0 L117.2,-21.0 A7.3,21.0 0 0 1 117.2,21.0 L0,21.0 A7.3,21.0 0 0 1 0,-21.0Z" fill="#fff" /><path d="M0,-21.0 A7.3,21.0 0 0 1 0,21.0" fill="none" /></g><path d="M215,400 L480,505" fill="none" stroke-width="8"/><path d="M365,560 Q400,680 480,720 Q600,772 760,740 M400,590 Q440,690 520,712 Q620,742 740,717 M440,590 Q470,670 540,690" fill="none" /><path d="M540,600 L540,690 M580,600 l0,80 M560,690 l100,-20 l40,-60 M620,640 q20,30 50,20 M700,600 l80,20 M860,610 l150,-20 M880,640 l120,-15" fill="none" /><path d="M600,700 l60,-5 M640,690 l20,-40" fill="none" stroke-width="12"/><path d="M740,640 Q760,600 800,620" fill="none" stroke-width="14"/><path d="M690,290 L700,470 L760,560 M960,440 L940,560 M1000,440 L1000,600 M700,300 L860,360 M720,560 L940,600" fill="none" /><path d="M908.7,407.8 L881.8,434.7 L911.8,422.7 L938.7,395.8Z" fill="#fff" /><path d="M862.2,361.3 L898.9,371.1 L928.9,359.1 L892.2,349.3Z" fill="#fff" /><path d="M898.9,371.1 L908.7,407.8 L938.7,395.8 L928.9,359.1Z" fill="#fff" /><path d="M908.7,407.8 L881.8,434.7 L845.1,424.9 L835.3,388.2 L862.2,361.3 L898.9,371.1Z" fill="#fff" /><ellipse cx="872" cy="398" rx="20.900000000000002" ry="20.900000000000002" fill="none" /><path d="M850,360 l50,15" fill="none" stroke-width="14"/><path d="M861.4,537.4 L827.4,571.4 L862.4,559.4 L896.4,525.4Z" fill="#fff" /><path d="M802.6,478.6 L848.9,491.1 L883.9,479.1 L837.6,466.6Z" fill="#fff" /><path d="M848.9,491.1 L861.4,537.4 L896.4,525.4 L883.9,479.1Z" fill="#fff" /><path d="M861.4,537.4 L827.4,571.4 L781.1,558.9 L768.6,512.6 L802.6,478.6 L848.9,491.1Z" fill="#fff" /><ellipse cx="815" cy="525" rx="26.400000000000002" ry="26.400000000000002" fill="none" /><ellipse cx="815" cy="525" rx="22" ry="24" fill="none" /><path d="M1020,430 l40,-15 M1030,470 l30,-10" fill="none" /><path d="M1085,400 L1085,765 L1130,765 L1130,420 M1130,470 Q1160,440 1200,450" fill="none" /><ellipse cx="1150" cy="440" rx="20" ry="30" fill="#fff" /><path d="M1130,700 l60,-15 M1150,650 q20,40 10,60" fill="none" /><path d="M945,800 Q960,770 1000,762 L1085,760 M945,800 L955,885 L1000,965 M1130,770 L1215,760" fill="none" /><path d="M1071.5,817.2 L1052.3,840.2 L1072.3,832.2 L1091.5,809.2Z" fill="#fff" /><path d="M1031.7,783.8 L1061.3,789.0 L1081.3,781.0 L1051.7,775.8Z" fill="#fff" /><path d="M1061.3,789.0 L1071.5,817.2 L1091.5,809.2 L1081.3,781.0Z" fill="#fff" /><path d="M1071.5,817.2 L1052.3,840.2 L1022.7,835.0 L1012.5,806.8 L1031.7,783.8 L1061.3,789.0Z" fill="#fff" /><ellipse cx="1042" cy="812" rx="16.5" ry="16.5" fill="none" /><ellipse cx="1042" cy="812" rx="14" ry="14" fill="#1a1a1a" /><path d="M1010,870 l90,-30 M1020,900 l100,-35 M1100,800 l60,-20" fill="none" stroke-width="12"/><g transform="translate(1012,945) rotate(-18.3)"><path d="M0,-21.0 L187.5,-21.0 A7.3,21.0 0 0 1 187.5,21.0 L0,21.0 A7.3,21.0 0 0 1 0,-21.0Z" fill="#fff" /><path d="M0,-21.0 A7.3,21.0 0 0 1 0,21.0" fill="none" /></g><path d="M1120,905 l15,40 M1135,900 l15,40" fill="none" /><path d="M960,900 l50,30" fill="none" stroke-width="14"/><path d="M415,265 l35,30 M335,318 l30,25 M440,300 l-30,40 M500,430 l20,30 M380,455 l60,20 M300,450 l40,-10 M640,560 q-30,20 -10,50 M690,600 q40,-10 70,20 M850,600 q30,10 50,40 M930,592 l70,22 M560,620 q20,30 60,30 M450,540 q40,30 30,70 M330,470 q40,20 40,60 M240,440 l40,30" fill="none" stroke-width="18"/><path d="M270,120 l100,-5 M270,150 l40,0 M300,330 q30,20 70,0 M400,500 l70,30 M330,540 q10,40 40,60 M420,560 l40,20 M500,600 l30,-30 M590,610 l40,20 M660,560 l60,30 M700,520 l50,50 M760,470 l40,60 M900,440 l30,100 M880,560 l60,10 M1010,620 l60,-20 M1020,660 l50,-10 M960,700 l100,-30 M860,700 l60,30 M820,640 l30,40 M700,760 l100,-10 M560,760 l120,10" fill="none" /><ellipse cx="420" cy="470" rx="18" ry="24" fill="#fff" /><ellipse cx="705" cy="470" rx="20" ry="26" fill="#fff" transform="rotate(-20 705 470)" /><ellipse cx="760" cy="600" rx="26" ry="20" fill="#fff" /><ellipse cx="930" cy="505" rx="24" ry="30" fill="#fff" /></g>
<g transform="translate(670,460) scale(0.1)" stroke-width="18.00" ><path d="M0,430 L180,380 M40,470 L20,700 M160,560 L170,700 M0,720 l150,-40 M20,700 q60,40 140,0 M60,440 l40,-15" fill="none" /><path d="M205,390 L205,930 L265,930 L265,400" fill="#fff" /><path d="M270,420 Q300,398 380,420 L630,370 M270,560 L300,900 M270,560 Q450,602 680,572 M300,820 l80,20 M310,880 q30,30 20,60" fill="none" /><ellipse cx="296" cy="462" rx="28" ry="45" fill="#fff" /><path d="M640,330 L650,470 L700,470 M790,330 L790,360 L960,330 M980,300 L1000,420" fill="none" /><ellipse cx="705" cy="385" rx="38" ry="18" fill="#fff" transform="rotate(25 705 385)" /><ellipse cx="722" cy="413" rx="38" ry="18" fill="#fff" transform="rotate(25 722 413)" /><ellipse cx="739" cy="441" rx="38" ry="18" fill="#fff" transform="rotate(25 739 441)" /><ellipse cx="756" cy="469" rx="38" ry="18" fill="#fff" transform="rotate(25 756 469)" /><ellipse cx="773" cy="497" rx="38" ry="18" fill="#fff" transform="rotate(25 773 497)" /><ellipse cx="790" cy="525" rx="38" ry="18" fill="#fff" transform="rotate(25 790 525)" /><path d="M370,1090 Q450,700 780,590 L830,622 M420,1080 Q520,760 640,720" fill="none" /><path d="M510,880 L760,650 M510,880 L780,1010 L880,922 L880,885 L832,880 L872,612" fill="none" /><g transform="translate(700,702) rotate(-16.7)"><path d="M0,-26.0 L104.4,-26.0 A9.1,26.0 0 0 1 104.4,26.0 L0,26.0 A9.1,26.0 0 0 1 0,-26.0Z" fill="#fff" /><path d="M0,-26.0 A9.1,26.0 0 0 1 0,26.0" fill="none" /></g><path d="M740,672 l10,52 M760,668 l10,52 M780,664 l10,50" fill="none" /><path d="M620,730 L700,700" fill="none" stroke-width="14"/><ellipse cx="715" cy="822" rx="58" ry="34" fill="#fff" transform="rotate(40 715 822)" /><path d="M740,800 L790,850 L770,880" fill="none" /><path d="M830,560 L1080,1030 M872,612 L1062,990" fill="none" /><ellipse cx="905" cy="542" rx="52" ry="52" fill="#fff" /><ellipse cx="915" cy="548" rx="26" ry="28" fill="none" /><path d="M905,540 q20,-20 40,5" fill="none" stroke-width="14"/><path d="M940,600 L940,722 L1130,702 L1130,540" fill="none" /><path d="M1100,300 L1200,290 L1290,360 L1280,380 L1120,340Z" fill="#1a1a1a" /><path d="M1000,380 q30,-60 90,-60 M1010,400 Q1000,470 1040,500" fill="none" /><path d="M1050,420 L1245,440 L1250,520 L1060,515 Q1005,500 1012,462 Q1020,425 1050,420Z" fill="#fff" /><ellipse cx="1075" cy="470" rx="22" ry="26" fill="none" transform="rotate(-10 1075 470)" /><path d="M1030,430 q-25,40 5,75" fill="none" /><path d="M1325.8,500.0 L1305.4,558.9 L1360.4,566.9 L1380.8,508.0Z" fill="#fff" /><path d="M1305.4,558.9 L1264.6,558.9 L1319.6,566.9 L1360.4,566.9Z" fill="#fff" /><path d="M1305.4,441.1 L1325.8,500.0 L1380.8,508.0 L1360.4,449.1Z" fill="#fff" /><path d="M1325.8,500.0 L1305.4,558.9 L1264.6,558.9 L1244.2,500.0 L1264.6,441.1 L1305.4,441.1Z" fill="#fff" /><ellipse cx="1340" cy="512" rx="42" ry="48" fill="#fff" /><ellipse cx="1345" cy="515" rx="14" ry="16" fill="#1a1a1a" /><path d="M1270,580 L1220,762 M1302,590 L1245,772" fill="none" /><ellipse cx="1160" cy="772" rx="34" ry="36" fill="#fff" /><ellipse cx="1222" cy="802" rx="40" ry="42" fill="#fff" /><path d="M1215,800 l0,30" fill="none" /><ellipse cx="1010" cy="832" rx="55" ry="62" fill="#fff" /><path d="M1170,832 L1050,960 M1110,900 L1110,1030 L1070,1050" fill="none" /><path d="M945,962 L1020,1002 M990,940 L1060,985" fill="none" stroke-width="22"/><path d="M937.0,1093.8 L893.3,1145.9 L943.3,1125.9 L987.0,1073.8Z" fill="#fff" /><path d="M846.7,1018.1 L913.7,1029.9 L963.7,1009.9 L896.7,998.1Z" fill="#fff" /><path d="M913.7,1029.9 L937.0,1093.8 L987.0,1073.8 L963.7,1009.9Z" fill="#fff" /><path d="M937.0,1093.8 L893.3,1145.9 L826.3,1134.1 L803.0,1070.2 L846.7,1018.1 L913.7,1029.9Z" fill="#fff" /><ellipse cx="870" cy="1082" rx="37.400000000000006" ry="37.400000000000006" fill="none" /><ellipse cx="870" cy="1082" rx="30" ry="32" fill="none" /><path d="M900,1120 l40,-20" fill="none" stroke-width="20"/><path d="M20,1000 Q50,962 130,950 L205,932 M20,1000 L30,1100 L0,1130 M265,935 L380,930" fill="none" /><path d="M214.2,1030.7 L182.1,1069.0 L212.1,1055.0 L244.2,1016.7Z" fill="#fff" /><path d="M147.9,975.0 L197.1,983.7 L227.1,969.7 L177.9,961.0Z" fill="#fff" /><path d="M197.1,983.7 L214.2,1030.7 L244.2,1016.7 L227.1,969.7Z" fill="#fff" /><path d="M214.2,1030.7 L182.1,1069.0 L132.9,1060.3 L115.8,1013.3 L147.9,975.0 L197.1,983.7Z" fill="#fff" /><ellipse cx="165" cy="1022" rx="27.500000000000004" ry="27.500000000000004" fill="none" /><ellipse cx="165" cy="1022" rx="22" ry="24" fill="#1a1a1a" /><path d="M240,1000 l120,-40 M260,1040 l110,-40 M100,1100 l100,-30" fill="none" stroke-width="18"/><g transform="translate(10,1172) rotate(-13.0)"><path d="M0,-28.0 L195.0,-28.0 A9.8,28.0 0 0 1 195.0,28.0 L0,28.0 A9.8,28.0 0 0 1 0,-28.0Z" fill="#fff" /><path d="M0,-28.0 A9.8,28.0 0 0 1 0,28.0" fill="none" /></g><g transform="translate(215,1150) rotate(-13.0)"><path d="M0,-33.0 L169.3,-33.0 A11.5,33.0 0 0 1 169.3,33.0 L0,33.0 A11.5,33.0 0 0 1 0,-33.0Z" fill="#fff" /><path d="M0,-33.0 A11.5,33.0 0 0 1 0,33.0" fill="none" /></g><path d="M40,1135 l15,52 M70,1128 l15,52 M100,1120 l15,52 M130,1113 l15,52 M280,1110 l20,60 M300,1105 l20,60" fill="none" /><path d="M420,1090 Q520,1030 640,1062 L800,1160 M480,1200 Q470,1120 530,1085" fill="none" /><ellipse cx="555" cy="1092" rx="26" ry="20" fill="none" /><ellipse cx="560" cy="1095" rx="8" ry="6" fill="#1a1a1a" /><ellipse cx="420" cy="232" rx="100" ry="40" fill="#fff" /><path d="M372,235 L372,180 Q415,150 460,180 L460,235 Q415,262 372,235Z" fill="#fff" /><path d="M372,182 Q415,208 460,182 M385,185 l60,-12" fill="none" stroke-width="14"/><path d="M470,230 L560,270 L620,250 L560,215" fill="none" /><path d="M880,200 L880,45 Q925,12 975,45 L975,210" fill="#fff" /><ellipse cx="927" cy="48" rx="47" ry="18" fill="none" /><path d="M840,140 L940,130 L940,190 L840,200Z" fill="#fff" /><path d="M0,265 L330,335 Q500,345 640,295 L980,205 M0,295 L330,362 Q500,372 640,325 L985,232 M0,280 L330,350" fill="none" stroke-width="12"/><path d="M700,295 L980,222" fill="none" stroke-width="30"/><path d="M10,275 L300,335" fill="none" stroke-width="24"/><path d="M1170,885 L1380,885" fill="none" /></g>
<g transform="translate(520,340) scale(0.2)" stroke-width="9.00" ><path d="M215,262 L183,325 L183,425 Q195,455 250,445 L250,262Z" fill="#fff" /><path d="M195,330 L195,420 Q205,440 240,432" fill="none" /><path d="M205,258 L205,470 L470,600 L515,620 L515,430 L280,268Z" fill="#fff" /><path d="M515,430 L515,620 L790,750 L820,755 L820,592Z" fill="#fff" /><path d="M820,592 L820,755 L900,775 L1115,740 L1115,592Z" fill="#fff" /><path d="M1115,592 L1115,740 L1185,725 L1185,500Z" fill="#fff" /><path d="M1060,610 L1068,720 M1085,608 L1092,716 M890,590 l120,0" fill="none" /><path d="M880,585 l130,3" fill="none" stroke-width="12"/><path d="M280,265 L275,215 Q290,185 360,165 L500,150 L560,165 L1165,470 Q1190,488 1175,520 L1115,592 L820,592 Z" fill="#fff" /><path d="M520,165 L1145,482 M290,200 Q300,180 330,172" fill="none" /><path d="M290,260 l68,23 l0,36 l-50,-21Z M312,274 l38,13" fill="none" /><path d="M368,292 l68,23 l0,36 l-50,-21Z M390,306 l38,13" fill="none" /><path d="M445,335 l68,23 l0,36 l-50,-21Z M467,349 l38,13" fill="none" /><path d="M598,425 l68,23 l0,36 l-50,-21Z M620,439 l38,13" fill="none" /><path d="M672,452 l68,23 l0,36 l-50,-21Z M694,466 l38,13" fill="none" /><path d="M748,488 l68,23 l0,36 l-50,-21Z M770,502 l38,13" fill="none" /><path d="M610,225 l35,20 l-30,10Z M440,180 l90,20 M1060,420 l50,45 M1075,400 q25,5 25,30 M900,360 l60,30" fill="none" /><path d="M595,330 L595,272 Q618,255 640,272 L640,305" fill="#fff" /><path d="M895,470 L895,433 Q918,417 940,433 L940,462" fill="#fff" /><path d="M600,290 l30,-5 M900,432 l30,-5" fill="none" stroke-width="10"/><ellipse cx="400" cy="225" rx="107" ry="46" fill="#fff" /><path d="M312,233 Q340,260 400,260 Q460,260 488,233" fill="none" /><ellipse cx="700" cy="385" rx="107" ry="46" fill="#fff" /><path d="M612,393 Q640,420 700,420 Q760,420 788,393" fill="none" /><ellipse cx="1000" cy="530" rx="107" ry="46" fill="#fff" /><path d="M912,538 Q940,565 1000,565 Q1060,565 1088,538" fill="none" /><path d="M350,240 L350,130 Q350,118 389.0,117 Q428,118 428,130 L428,240 Q389.0,254 350,240Z" fill="#fff" /><path d="M655,400 L655,280 Q655,268 692.5,267 Q730,268 730,280 L730,400 Q692.5,414 655,400Z" fill="#fff" /><path d="M955,548 L955,432 Q955,420 992.5,419 Q1030,420 1030,432 L1030,548 Q992.5,562 955,548Z" fill="#fff" /><path d="M548,200 L548,330 M566,205 L566,320 M850,360 L850,480 M868,365 L868,470" fill="none" /><path d="M855,290 q40,-10 50,20 q0,20 -20,25" fill="none" /><g><path d="M223.0,270 L223.0,196.5 L227.2,194.5 L227.2,175 Q237,168 246.8,175 L246.8,194.5 L251.0,196.5 L251.0,270" fill="#fff" /><path d="M223.0,203.85 Q237,210.85 251.0,203.85" fill="none" /><path d="M223.0,218.55 Q237,225.55 251.0,218.55" fill="none" /><path d="M223.0,233.25 Q237,240.25 251.0,233.25" fill="none" /><path d="M223.0,247.95 Q237,254.95 251.0,247.95" fill="none" /><path d="M223.0,262.65 Q237,269.65 251.0,262.65" fill="none" /></g><g><path d="M526.0,165 L526.0,90.0 L530.2,88.0 L530.2,68 Q540,61 549.8,68 L549.8,88.0 L554.0,90.0 L554.0,165" fill="#fff" /><path d="M526.0,97.5 Q540,104.5 554.0,97.5" fill="none" /><path d="M526.0,112.5 Q540,119.5 554.0,112.5" fill="none" /><path d="M526.0,127.5 Q540,134.5 554.0,127.5" fill="none" /><path d="M526.0,142.5 Q540,149.5 554.0,142.5" fill="none" /><path d="M526.0,157.5 Q540,164.5 554.0,157.5" fill="none" /></g><g><path d="M526.0,425 L526.0,353.75 L530.2,351.75 L530.2,333 Q540,326 549.8,333 L549.8,351.75 L554.0,353.75 L554.0,425" fill="#fff" /><path d="M526.0,360.875 Q540,367.875 554.0,360.875" fill="none" /><path d="M526.0,375.125 Q540,382.125 554.0,375.125" fill="none" /><path d="M526.0,389.375 Q540,396.375 554.0,389.375" fill="none" /><path d="M526.0,403.625 Q540,410.625 554.0,403.625" fill="none" /><path d="M526.0,417.875 Q540,424.875 554.0,417.875" fill="none" /></g><g><path d="M831.0,322 L831.0,251.5 L835.2,249.5 L835.2,231 Q845,224 854.8,231 L854.8,249.5 L859.0,251.5 L859.0,322" fill="#fff" /><path d="M831.0,258.55 Q845,265.55 859.0,258.55" fill="none" /><path d="M831.0,272.65 Q845,279.65 859.0,272.65" fill="none" /><path d="M831.0,286.75 Q845,293.75 859.0,286.75" fill="none" /><path d="M831.0,300.85 Q845,307.85 859.0,300.85" fill="none" /><path d="M831.0,314.95 Q845,321.95 859.0,314.95" fill="none" /></g><g><path d="M824.0,585 L824.0,508.5 L828.2,506.5 L828.2,486 Q838,479 847.8,486 L847.8,506.5 L852.0,508.5 L852.0,585" fill="#fff" /><path d="M824.0,514.875 Q838,521.875 852.0,514.875" fill="none" /><path d="M824.0,527.625 Q838,534.625 852.0,527.625" fill="none" /><path d="M824.0,540.375 Q838,547.375 852.0,540.375" fill="none" /><path d="M824.0,553.125 Q838,560.125 852.0,553.125" fill="none" /><path d="M824.0,565.875 Q838,572.875 852.0,565.875" fill="none" /><path d="M824.0,578.625 Q838,585.625 852.0,578.625" fill="none" /></g><g><path d="M1126.0,482 L1126.0,399.5 L1130.2,397.5 L1130.2,375 Q1140,368 1149.8,375 L1149.8,397.5 L1154.0,399.5 L1154.0,482" fill="#fff" /><path d="M1126.0,406.375 Q1140,413.375 1154.0,406.375" fill="none" /><path d="M1126.0,420.125 Q1140,427.125 1154.0,420.125" fill="none" /><path d="M1126.0,433.875 Q1140,440.875 1154.0,433.875" fill="none" /><path d="M1126.0,447.625 Q1140,454.625 1154.0,447.625" fill="none" /><path d="M1126.0,461.375 Q1140,468.375 1154.0,461.375" fill="none" /><path d="M1126.0,475.125 Q1140,482.125 1154.0,475.125" fill="none" /></g><path d="M270,185 q15,-18 35,-22" fill="none" /><path d="M185,440 L470,590 Q490,620 530,625 L780,750 Q840,780 900,777 L1240,712 M180,458 L465,608 Q490,640 530,645 L775,768 Q840,798 900,795 L1245,730" fill="none" /><path d="M700,735 L790,770 Q850,790 910,785" fill="none" stroke-width="9"/><path d="M1100,748 L1240,720" fill="none" stroke-width="10"/><path d="M275.5,495 L338.2,509 L387.7,482 L387.7,465 L344.8,452" fill="#fff" /><path d="M292.0,487 L292.0,445 Q325,419 358.0,445 L358.0,487 Q325,505 292.0,487Z" fill="#fff" /><path d="M292.0,445 Q325,465 358.0,445" fill="none" /><path d="M305.2,442 L344.8,436" fill="none" stroke-width="12"/><path d="M405.5,562 L468.2,576 L517.7,549 L517.7,532 L474.8,519" fill="#fff" /><path d="M422.0,554 L422.0,512 Q455,486 488.0,512 L488.0,554 Q455,572 422.0,554Z" fill="#fff" /><path d="M422.0,512 Q455,532 488.0,512" fill="none" /><path d="M435.2,509 L474.8,503" fill="none" stroke-width="12"/><path d="M540.5,635 L603.2,649 L652.7,622 L652.7,605 L609.8,592" fill="#fff" /><path d="M557.0,627 L557.0,585 Q590,559 623.0,585 L623.0,627 Q590,645 557.0,627Z" fill="#fff" /><path d="M557.0,585 Q590,605 623.0,585" fill="none" /><path d="M570.2,582 L609.8,576" fill="none" stroke-width="12"/><path d="M675.5,700 L738.2,714 L787.7,687 L787.7,670 L744.8,657" fill="#fff" /><path d="M692.0,692 L692.0,650 Q725,624 758.0,650 L758.0,692 Q725,710 692.0,692Z" fill="#fff" /><path d="M692.0,650 Q725,670 758.0,650" fill="none" /><path d="M705.2,647 L744.8,641" fill="none" stroke-width="12"/><path d="M905.5,750 L968.2,764 L1017.7,737 L1017.7,720 L974.8,707" fill="#fff" /><path d="M922.0,742 L922.0,700 Q955,674 988.0,700 L988.0,742 Q955,760 922.0,742Z" fill="#fff" /><path d="M922.0,700 Q955,720 988.0,700" fill="none" /><path d="M935.2,697 L974.8,691" fill="none" stroke-width="12"/><path d="M1175,700 L1175,625 Q1210,600 1245,625 L1245,700" fill="#fff" /><ellipse cx="1210" cy="628" rx="35" ry="14" fill="none" /><path d="M530,600 l30,15 l-25,10Z M910,710 Q960,680 1060,750" fill="none" /><g transform="translate(185,540) rotate(13.0)"><path d="M0,-25.0 L66.7,-25.0 A8.8,25.0 0 0 1 66.7,25.0 L0,25.0 A8.8,25.0 0 0 1 0,-25.0Z" fill="#fff" /><path d="M0,-25.0 A8.8,25.0 0 0 1 0,25.0" fill="none" /></g><path d="M178.0,566.0 L166.0,540.0 L148.0,536.0 L160.0,562.0Z" fill="#fff" /><path d="M166.0,540.0 L178.0,514.0 L160.0,510.0 L148.0,536.0Z" fill="#fff" /><path d="M178.0,514.0 L202.0,514.0 L184.0,510.0 L160.0,510.0Z" fill="#fff" /><path d="M214.0,540.0 L202.0,566.0 L178.0,566.0 L166.0,540.0 L178.0,514.0 L202.0,514.0Z" fill="#fff" /><path d="M250,520 L300,540 L300,585 L250,575" fill="none" /></g>
<g transform="translate(400,560) scale(0.25)" stroke-width="5.80" ><path d="M553,70 Q560,58 620,45 L720,26 Q760,22 800,28 L900,45 Q935,55 932,64 Q925,75 900,82 L790,105 Q745,110 700,105 L600,92 Q553,82 553,70Z" fill="#fff" /><ellipse cx="738" cy="65" rx="80" ry="28" fill="none" /><ellipse cx="595" cy="70" rx="18" ry="8" fill="none" /><ellipse cx="890" cy="62" rx="18" ry="8" fill="none" /><path d="M445,72 L530,72" fill="none" /><path d="M576,245 L576,118 Q593,105 610,118 L610,245 Q593,258 576,245Z" fill="#fff" /><path d="M576,128 q17,9 34,0" fill="none" /><path d="M576,142 q17,9 34,0" fill="none" /><path d="M576,156 q17,9 34,0" fill="none" /><path d="M576,170 q17,9 34,0" fill="none" /><path d="M576,184 q17,9 34,0" fill="none" /><path d="M576,198 q17,9 34,0" fill="none" /><path d="M576,212 q17,9 34,0" fill="none" /><path d="M576,226 q17,9 34,0" fill="none" /><path d="M576,240 q17,9 34,0" fill="none" /><path d="M445,175 L560,175" fill="none" /><path d="M508,522 Q512,508 545,500 L610,490 L790,500 L790,545 L760,560 Q720,575 690,572 L560,560 Q508,545 508,522Z" fill="#fff" /><path d="M510,537 Q520,560 560,573 L690,585 Q730,588 765,572" fill="none" /><ellipse cx="545" cy="518" rx="12" ry="8" fill="none" /><path d="M620,430 L600,520 Q680,562 760,535 L770,440Z" fill="#fff" /><path d="M640,545 q50,12 100,2" fill="none" stroke-width="12"/><path d="M550,362 L550,415 Q560,425 590,430 L700,450 Q745,455 790,447 L880,425 Q935,408 937,395 L940,348Z" fill="#fff" /><path d="M550,362 Q552,350 600,335 L650,318 Q720,308 800,312 L900,325 Q942,335 940,350 Q935,365 880,385 L790,405 Q745,410 700,400 L590,380 Q550,375 550,362Z" fill="#fff" /><ellipse cx="735" cy="352" rx="85" ry="30" fill="none" /><path d="M560,420 q5,25 30,25 M870,390 q10,30 50,25" fill="none" /><g transform="translate(925,322) rotate(11.3)"><path d="M0,-11.0 L25.5,-11.0 A3.8,11.0 0 0 1 25.5,11.0 L0,11.0 A3.8,11.0 0 0 1 0,-11.0Z" fill="#fff" /><path d="M0,-11.0 A3.8,11.0 0 0 1 0,11.0" fill="none" /></g><g><path d="M576.0,358 L576.0,287.6 L576.0,285.6 L576.0,281 Q593,274 610.0,281 L610.0,285.6 L610.0,287.6 L610.0,358" fill="#fff" /><path d="M576.0,296.40000000000003 Q593,304.90000000000003 610.0,296.40000000000003" fill="none" /><path d="M576.0,314.0 Q593,322.5 610.0,314.0" fill="none" /><path d="M576.0,331.6 Q593,340.1 610.0,331.6" fill="none" /><path d="M576.0,349.2 Q593,357.7 610.0,349.2" fill="none" /></g><g><path d="M871.0,348 L871.0,277.6 L871.0,275.6 L871.0,271 Q888,264 905.0,271 L905.0,275.6 L905.0,277.6 L905.0,348" fill="#fff" /><path d="M871.0,286.40000000000003 Q888,294.90000000000003 905.0,286.40000000000003" fill="none" /><path d="M871.0,304.0 Q888,312.5 905.0,304.0" fill="none" /><path d="M871.0,321.6 Q888,330.1 905.0,321.6" fill="none" /><path d="M871.0,339.2 Q888,347.7 905.0,339.2" fill="none" /></g><path d="M750,647 Q755,632 790,625 L850,612 L1040,620 L1040,672 L1000,690 Q960,703 920,700 L800,685 Q750,672 750,647Z" fill="#fff" /><path d="M752,662 Q760,688 800,698 L920,713 Q960,716 1005,702" fill="none" /><ellipse cx="790" cy="645" rx="12" ry="8" fill="none" /><path d="M850,550 L845,640 Q900,682 980,665 L990,560Z" fill="#fff" /><path d="M870,672 q50,12 100,0" fill="none" stroke-width="12"/><path d="M800,540 L850,585 M815,535 L855,570" fill="none" /><g transform="translate(1100,492) rotate(-12.4)"><path d="M0,-21.0 L102.4,-21.0 A7.3,21.0 0 0 1 102.4,21.0 L0,21.0 A7.3,21.0 0 0 1 0,-21.0Z" fill="#fff" /><path d="M0,-21.0 A7.3,21.0 0 0 1 0,21.0" fill="none" /></g><g transform="translate(1205,469) rotate(-13.1)"><path d="M0,-10.0 L30.8,-10.0 A3.5,10.0 0 0 1 30.8,10.0 L0,10.0 A3.5,10.0 0 0 1 0,-10.0Z" fill="#fff" /><path d="M0,-10.0 A3.5,10.0 0 0 1 0,10.0" fill="none" /></g><path d="M752,472 L755,525 Q765,535 790,540 L900,565 Q945,570 990,562 L1085,530 Q1130,515 1132,505 L1135,460Z" fill="#fff" /><path d="M752,472 Q755,458 800,445 L860,430 Q930,418 1000,420 L1090,435 Q1138,445 1135,462 Q1130,478 1080,495 L990,518 Q945,525 900,515 L790,490 Q752,485 752,472Z" fill="#fff" /><ellipse cx="938" cy="462" rx="82" ry="30" fill="none" /><path d="M1070,500 q10,30 50,25" fill="none" /><g><path d="M773.0,470 L773.0,402.24 L773.0,400.24 L773.0,396 Q790,389 807.0,396 L807.0,400.24 L807.0,402.24 L807.0,470" fill="#fff" /><path d="M773.0,410.71000000000004 Q790,419.21000000000004 807.0,410.71000000000004" fill="none" /><path d="M773.0,427.65 Q790,436.15 807.0,427.65" fill="none" /><path d="M773.0,444.59000000000003 Q790,453.09000000000003 807.0,444.59000000000003" fill="none" /><path d="M773.0,461.53 Q790,470.03 807.0,461.53" fill="none" /></g><g><path d="M1068.0,467 L1068.0,397.48 L1068.0,395.48 L1068.0,391 Q1085,384 1102.0,391 L1102.0,395.48 L1102.0,397.48 L1102.0,467" fill="#fff" /><path d="M1068.0,406.17 Q1085,414.67 1102.0,406.17" fill="none" /><path d="M1068.0,423.55 Q1085,432.05 1102.0,423.55" fill="none" /><path d="M1068.0,440.93 Q1085,449.43 1102.0,440.93" fill="none" /><path d="M1068.0,458.31 Q1085,466.81 1102.0,458.31" fill="none" /></g><path d="M992,797 Q995,782 1030,775 L1090,765 L1280,765 L1340,770 Q1375,780 1372,795 Q1368,810 1300,835 L1200,858 Q1150,862 1100,850 L1010,822 Q990,812 992,797Z" fill="#fff" /><path d="M994,812 Q1000,830 1015,838 L1100,865 Q1150,876 1200,872 L1305,848 Q1370,825 1372,805" fill="none" /><ellipse cx="1035" cy="795" rx="13" ry="8" fill="none" /><ellipse cx="1330" cy="785" rx="13" ry="8" fill="none" /><path d="M1060,675 L1095,800 Q1180,852 1280,790 L1245,668Z" fill="#fff" /><path d="M1150,828 q50,8 100,-12" fill="none" stroke-width="10"/><path d="M985,660 L1060,705 M1000,650 L1065,690" fill="none" /><path d="M948,592 L950,640 Q960,655 985,660 L1090,685 Q1135,692 1180,690 L1270,668 Q1322,655 1322,645 L1325,580Z" fill="#fff" /><path d="M948,592 Q950,578 990,565 L1050,548 Q1120,537 1200,540 L1290,555 Q1328,565 1325,580 Q1322,598 1270,618 L1180,640 Q1135,645 1090,635 L985,610 Q948,605 948,592Z" fill="#fff" /><ellipse cx="1135" cy="580" rx="82" ry="30" fill="none" /><g><path d="M971.0,588 L971.0,517.6 L971.0,515.6 L971.0,511 Q988,504 1005.0,511 L1005.0,515.6 L1005.0,517.6 L1005.0,588" fill="#fff" /><path d="M971.0,526.4 Q988,534.9 1005.0,526.4" fill="none" /><path d="M971.0,544.0 Q988,552.5 1005.0,544.0" fill="none" /><path d="M971.0,561.6 Q988,570.1 1005.0,561.6" fill="none" /><path d="M971.0,579.2 Q988,587.7 1005.0,579.2" fill="none" /></g><g><path d="M1265.0,577 L1265.0,505.72 L1265.0,503.72 L1265.0,499 Q1282,492 1299.0,499 L1299.0,503.72 L1299.0,505.72 L1299.0,577" fill="#fff" /><path d="M1265.0,514.63 Q1282,523.13 1299.0,514.63" fill="none" /><path d="M1265.0,532.45 Q1282,540.95 1299.0,532.45" fill="none" /><path d="M1265.0,550.27 Q1282,558.77 1299.0,550.27" fill="none" /><path d="M1265.0,568.09 Q1282,576.59 1299.0,568.09" fill="none" /></g><path d="M860,797 L985,797" fill="none" /><g transform="rotate(-100 1218 392)"><path d="M1201,450 L1201,340 Q1218,328 1235,340 L1235,450 Q1218,460 1201,450Z" fill="#fff" /><path d="M1201,352 q17,9 34,0" fill="none" /><path d="M1201,368 q17,9 34,0" fill="none" /><path d="M1201,384 q17,9 34,0" fill="none" /><path d="M1201,400 q17,9 34,0" fill="none" /><path d="M1201,416 q17,9 34,0" fill="none" /><path d="M1201,432 q17,9 34,0" fill="none" /><path d="M1201,448 q17,9 34,0" fill="none" /></g><path d="M1290,385 L1365,385" fill="none" /><path d="M245.0,430.0 L245.0,456.0 L264.0,472.5 L302.0,472.5 L321.0,456.0 L321.0,430.0 L302.0,446.5 L264.0,446.5 L245.0,430.0" fill="#fff" /><path d="M321.0,430.0 L302.0,446.5 L264.0,446.5 L245.0,430.0 L264.0,413.5 L302.0,413.5Z" fill="#fff" /><path d="M264.0,446.5 l0,26.0 M302.0,446.5 l0,26.0" fill="none" /><ellipse cx="283" cy="430" rx="17.1" ry="8.55" fill="none" /><path d="M145,440 L240,440" fill="none" /><path d="M246,520 L246,538 Q283,555 320,538 L320,520" fill="#fff" /><ellipse cx="283" cy="520" rx="37" ry="16" fill="#fff" /><path d="M265,522 Q283,508 301,522" fill="none" /><path d="M145,525 L242,525" fill="none" /><path d="M1000,968 Q1005,958 1040,950 L1120,935 L1250,935 L1330,950 Q1368,958 1365,967 Q1360,978 1330,985 L1250,1003 L1120,1002 L1035,988 Q1000,980 1000,968Z" fill="#fff" /><ellipse cx="1185" cy="963" rx="55" ry="18" fill="none" /><path d="M1135,968 Q1185,945 1235,968" fill="none" /><ellipse cx="1035" cy="968" rx="14" ry="8" fill="none" /><ellipse cx="1325" cy="958" rx="14" ry="8" fill="none" /><path d="M860,968 L995,968" fill="none" /><path d="M875,897 L1000,897" fill="none" /><path d="M870,1055 L1000,1055" fill="none" /></g>
<g transform="translate(400,560) scale(0.25)" stroke-width="6.40" stroke="#14aa14"><path d="M1005,895 Q1010,885 1040,880 L1120,862 L1260,862 L1340,878 Q1370,885 1368,894 Q1365,902 1340,908 L1250,928 L1120,925 L1035,912 Q1005,905 1005,895Z" fill="#fff" /><ellipse cx="1190" cy="893" rx="55" ry="18" fill="none" /><ellipse cx="1040" cy="896" rx="16" ry="9" fill="none" /><ellipse cx="1330" cy="890" rx="16" ry="9" fill="none" /><path d="M1005,1050 Q1010,1040 1040,1035 L1120,1017 L1260,1017 L1340,1033 Q1370,1040 1368,1049 Q1365,1057 1340,1063 L1250,1083 L1120,1080 L1035,1067 Q1005,1060 1005,1050Z" fill="#fff" /><ellipse cx="1190" cy="1048" rx="55" ry="18" fill="none" /><ellipse cx="1040" cy="1051" rx="16" ry="9" fill="none" /><ellipse cx="1330" cy="1045" rx="16" ry="9" fill="none" /></g>
<g transform="translate(760,600) scale(0.25)" stroke-width="7.20" ><g transform="rotate(75 760 480)"><path d="M746,535 L746,440 Q760,430 774,440 L774,535Z" fill="#fff" /><path d="M746,450 q14,8 28,0" fill="none" /><path d="M746,464 q14,8 28,0" fill="none" /><path d="M746,478 q14,8 28,0" fill="none" /><path d="M746,492 q14,8 28,0" fill="none" /><path d="M746,506 q14,8 28,0" fill="none" /></g><ellipse cx="690" cy="497" rx="24" ry="26" fill="#fff" /><path d="M668,500 Q690,470 712,492 M680,478 L700,518" fill="none" /><path d="M672,507 Q690,530 710,505" fill="none" /><ellipse cx="846" cy="450" rx="14" ry="26" fill="#fff" transform="rotate(-15 846 450)" /><path d="M842,440 q10,10 2,22" fill="none" /><path d="M895,455 L895,495 L910,495 L910,462 M1022,510 L1022,545 L1040,545 L1040,505" fill="#fff" /><path d="M880,385 L915,365 L1075,428 L1075,490 L1020,512 L885,460Z" fill="#fff" /><path d="M880,385 L1020,442 L1075,428 M1020,442 L1020,512" fill="none" /><ellipse cx="905" cy="437" rx="7" ry="9" fill="none" /><path d="M975,470 q12,5 5,20" fill="none" /><path d="M925,375 L925,360 Q945,350 965,360 L965,380 Q945,392 925,375" fill="#fff" /><path d="M912,350 Q912,322 945,320 Q978,322 980,350 Q965,365 945,365 Q925,365 912,350Z" fill="#fff" /><path d="M1110,400 L1095,610 L1140,647 L1175,642 L1205,622 L1200,605 L1172,600 L1180,480 L1215,455Z" fill="#fff" /><path d="M1140,647 L1160,602 L1175,600 M1165,625 q15,-10 25,0" fill="none" /><path d="M1105,360 Q1115,338 1145,340 L1225,385 Q1250,405 1245,432 Q1235,458 1210,455 L1115,412 Q1100,390 1105,360Z" fill="#fff" /><ellipse cx="1140" cy="380" rx="22" ry="24" fill="#fff" stroke-width="16"/><ellipse cx="1197" cy="415" rx="22" ry="24" fill="#fff" stroke-width="16"/><path d="M1130,375 q10,10 5,25 M1190,408 q10,10 5,25 M1165,385 l10,25" fill="none" stroke-width="8"/><path d="M1312,455 L1312,505 Q1326,512 1340,505 L1340,455Z" fill="#fff" /><path d="M1312,470 q14,8 28,0 M1312,485 q14,8 28,0" fill="none" /><path d="M1296.0,412.0 L1296.0,442.0 L1311.0,455.0 L1341.0,455.0 L1356.0,442.0 L1356.0,412.0 L1341.0,425.0 L1311.0,425.0 L1296.0,412.0" fill="#fff" /><path d="M1356.0,412.0 L1341.0,425.0 L1311.0,425.0 L1296.0,412.0 L1311.0,399.0 L1341.0,399.0Z" fill="#fff" /><path d="M1311.0,425.0 l0,30.0 M1341.0,425.0 l0,30.0" fill="none" /><ellipse cx="1330" cy="558" rx="30" ry="14" fill="#fff" /><ellipse cx="1328" cy="560" rx="12" ry="6" fill="#222" /><ellipse cx="1335" cy="632" rx="30" ry="14" fill="#fff" /><path d="M1318,630 Q1335,642 1352,628" fill="none" stroke-width="8"/><path d="M938,235 L938,300" fill="none" /><path d="M1133,255 L1133,330" fill="none" /><path d="M828,340 L828,405" fill="none" /><path d="M700,375 L700,445" fill="none" /><path d="M1368,425 L1440,425" fill="none" /><path d="M1372,550 L1440,550" fill="none" /><path d="M1385,635 L1440,635" fill="none" /><path d="M595,863 L676,867" fill="none" /></g>
<g transform="translate(740,620) scale(0.1)" stroke-width="15.00" ><path d="M340,140 Q380,112 430,145 L620,262 Q690,320 685,420 Q680,500 640,522 L560,545 L310,165Z" fill="#fff" /><path d="M265,260 Q255,190 310,165 Q340,158 380,185 L560,300 Q620,350 610,450 Q600,530 560,545 Q530,550 490,520 L330,420 Q275,370 265,260Z" fill="#fff" /><path d="M325,330 Q320,280 355,265 Q380,265 420,290 L500,345 Q540,380 535,420 Q525,450 500,455 Q470,450 440,430 L370,390 Q330,370 325,330Z" fill="none" /><path d="M365,285 Q350,330 385,360 L470,410 M400,300 l10,40 M480,370 l-5,40 M420,330 l50,30 M330,350 l20,20" fill="none" /><path d="M403,431 l3,3 M318,352 l3,3 M385,260 l3,3 M566,444 l3,3 M389,417 l3,3 M562,431 l3,3 M538,336 l3,3 M394,259 l3,3 M383,244 l3,3 M314,264 l3,3 M418,265 l3,3 M488,288 l3,3 M364,393 l3,3 M552,355 l3,3 M457,265 l3,3 M453,263 l3,3 M304,335 l3,3 M294,301 l3,3 M548,363 l3,3 M483,453 l3,3 M567,415 l3,3 M383,255 l3,3 M317,276 l3,3 M326,365 l3,3 M345,244 l3,3 M424,251 l3,3 M559,348 l3,3 M417,263 l3,3 M561,351 l3,3 M566,380 l3,3 M450,274 l3,3 M538,332 l3,3 M373,402 l3,3 M558,346 l3,3 M401,170 l3,3 M432,180 l3,3 M459,205 l3,3 M493,215 l3,3 M518,233 l3,3 M547,254 l3,3 M577,280 l3,3 M601,298 l3,3 M627,305 l3,3 M658,322 l3,3 " fill="none" stroke-width="9"/><path d="M710,385 L950,385" fill="none" /></g>
<g transform="translate(400,900) scale(0.25)" stroke-width="7.00" ><path d="M140,412 Q120,400 110,420 Q108,445 125,448 M142,425 Q130,418 125,430 Q128,440 138,440" fill="none" /><ellipse cx="178" cy="418" rx="20" ry="32" fill="#fff" /><ellipse cx="178" cy="418" rx="9.0" ry="16.0" fill="none" /><g transform="translate(232,400) rotate(-6.3)"><path d="M0,-25.0 L36.2,-25.0 A8.8,25.0 0 0 1 36.2,25.0 L0,25.0 A8.8,25.0 0 0 1 0,-25.0Z" fill="#fff" /><path d="M0,-25.0 A8.8,25.0 0 0 1 0,25.0" fill="none" /></g><g transform="translate(308,386) rotate(-7.2)"><path d="M0,-30.0 L87.7,-30.0 A10.5,30.0 0 0 1 87.7,30.0 L0,30.0 A10.5,30.0 0 0 1 0,-30.0Z" fill="#fff" /><path d="M0,-30.0 A10.5,30.0 0 0 1 0,30.0" fill="none" /></g><ellipse cx="308" cy="386" rx="11" ry="20" fill="none" transform="rotate(-6 308 386)" /><path d="M360,250 L375,232 L410,236 L465,320 L470,360 L400,410 L380,410 L360,340Z" fill="#fff" /><ellipse cx="380" cy="255" rx="5" ry="8" fill="none" /><ellipse cx="455" cy="340" rx="8" ry="13" fill="none" /><g transform="translate(408,245) rotate(-16.4)"><path d="M0,-12.0 L17.7,-12.0 A4.2,12.0 0 0 1 17.7,12.0 L0,12.0 A4.2,12.0 0 0 1 0,-12.0Z" fill="#fff" /><path d="M0,-12.0 A4.2,12.0 0 0 1 0,12.0" fill="none" /></g><g transform="translate(475,335) rotate(-16.9)"><path d="M0,-13.0 L24.0,-13.0 A4.5,13.0 0 0 1 24.0,13.0 L0,13.0 A4.5,13.0 0 0 1 0,-13.0Z" fill="#fff" /><path d="M0,-13.0 A4.5,13.0 0 0 1 0,13.0" fill="none" /></g><g transform="translate(565,335) rotate(-15.9)"><path d="M0,-23.0 L36.4,-23.0 A8.0,23.0 0 0 1 36.4,23.0 L0,23.0 A8.0,23.0 0 0 1 0,-23.0Z" fill="#fff" /><path d="M0,-23.0 A8.0,23.0 0 0 1 0,23.0" fill="none" /></g><ellipse cx="573" cy="332" rx="12" ry="20" fill="none" transform="rotate(-10 573 332)" /><ellipse cx="655" cy="315" rx="22" ry="32" fill="#fff" transform="rotate(-8 655 315)" /><ellipse cx="655" cy="315" rx="9.9" ry="16.0" fill="none" transform="rotate(-8 655 315)" /><path d="M735,285 Q715,275 707,295 Q705,318 722,322 M738,300 Q725,292 720,303 Q722,313 732,312" fill="none" /><path d="M748,298 L830,298" fill="none" /><g transform="translate(470,398) rotate(27.6)"><path d="M0,-20.0 L73.4,-20.0 A7.0,20.0 0 0 1 73.4,20.0 L0,20.0 A7.0,20.0 0 0 1 0,-20.0Z" fill="#fff" /><path d="M0,-20.0 A7.0,20.0 0 0 1 0,20.0" fill="none" /></g><ellipse cx="475" cy="400" rx="8" ry="14" fill="none" transform="rotate(25 475 400)" /><path d="M580.1,481.3 L556.7,476.4 L546.9,482.0 L570.3,486.9Z" fill="#fff" /><path d="M556.7,476.4 L548.6,450.1 L538.8,455.7 L546.9,482.0Z" fill="#fff" /><path d="M548.6,450.1 L563.9,428.7 L554.1,434.3 L538.8,455.7Z" fill="#fff" /><path d="M595.4,459.9 L580.1,481.3 L556.7,476.4 L548.6,450.1 L563.9,428.7 L587.3,433.6Z" fill="#fff" /><ellipse cx="572" cy="455" rx="9.996" ry="11.76" fill="none" /><g transform="translate(608,482) rotate(32.4)"><path d="M0,-9.0 L383.9,-9.0 A2.7,9.0 0 0 1 383.9,9.0 L0,9.0 A2.7,9.0 0 0 1 0,-9.0Z" fill="#fff" /><path d="M0,-9.0 A2.7,9.0 0 0 1 0,9.0" fill="none" /></g><path d="M615,478 L607,492" fill="none" /><path d="M878,645 L870,659" fill="none" /><path d="M626,485 L618,499" fill="none" /><path d="M889,652 L881,666" fill="none" /><path d="M637,492 L629,506" fill="none" /><path d="M900,659 L892,673" fill="none" /><path d="M648,499 L640,513" fill="none" /><path d="M911,666 L903,680" fill="none" /><path d="M659,506 L651,520" fill="none" /><path d="M922,673 L914,687" fill="none" /><path d="M935.0,620.9 L908.8,612.6 L897.6,619.0 L923.8,627.3Z" fill="#fff" /><path d="M908.8,612.6 L901.7,581.7 L890.5,588.1 L897.6,619.0Z" fill="#fff" /><path d="M901.7,581.7 L921.0,559.1 L909.8,565.5 L890.5,588.1Z" fill="#fff" /><path d="M954.3,598.3 L935.0,620.9 L908.8,612.6 L901.7,581.7 L921.0,559.1 L947.2,567.4Z" fill="#fff" /><ellipse cx="928" cy="590" rx="11.424" ry="13.44" fill="none" /><g transform="translate(985,578) rotate(-7.6)"><path d="M0,-15.0 L45.4,-15.0 A5.2,15.0 0 0 1 45.4,15.0 L0,15.0 A5.2,15.0 0 0 1 0,-15.0Z" fill="#fff" /><path d="M0,-15.0 A5.2,15.0 0 0 1 0,15.0" fill="none" /></g><path d="M995,565 L998,592" fill="none" /><path d="M1007,563 L1010,590" fill="none" /><path d="M1030,545 L1048,545 L1052,598 L1034,600Z" fill="#fff" /><g transform="translate(1052,570) rotate(-6.3)"><path d="M0,-15.0 L18.1,-15.0 A5.2,15.0 0 0 1 18.1,15.0 L0,15.0 A5.2,15.0 0 0 1 0,-15.0Z" fill="#fff" /><path d="M0,-15.0 A5.2,15.0 0 0 1 0,15.0" fill="none" /></g><ellipse cx="1085" cy="565" rx="20" ry="20" fill="#fff" /><path d="M993.7,743.2 L968.6,738.0 L958.1,744.0 L983.2,749.2Z" fill="#fff" /><path d="M968.6,738.0 L959.9,709.8 L949.4,715.8 L958.1,744.0Z" fill="#fff" /><path d="M959.9,709.8 L976.3,686.8 L965.8,692.8 L949.4,715.8Z" fill="#fff" /><path d="M1010.1,720.2 L993.7,743.2 L968.6,738.0 L959.9,709.8 L976.3,686.8 L1001.4,692.0Z" fill="#fff" /><ellipse cx="985" cy="715" rx="10.709999999999999" ry="12.6" fill="none" /><path d="M1018,758 Q1015,735 1040,738 L1090,770 Q1110,790 1095,808 Q1075,815 1060,800Z" fill="#fff" /><path d="M1062,755 Q1050,770 1060,800" fill="none" /><path d="M322.0,770.9 L295.8,762.6 L284.6,769.0 L310.8,777.3Z" fill="#fff" /><path d="M295.8,762.6 L288.7,731.7 L277.5,738.1 L284.6,769.0Z" fill="#fff" /><path d="M288.7,731.7 L308.0,709.1 L296.8,715.5 L277.5,738.1Z" fill="#fff" /><path d="M341.3,748.3 L322.0,770.9 L295.8,762.6 L288.7,731.7 L308.0,709.1 L334.2,717.4Z" fill="#fff" /><ellipse cx="315" cy="740" rx="11.424" ry="13.44" fill="none" /><ellipse cx="395" cy="718" rx="13" ry="26" fill="#fff" transform="rotate(-8 395 718)" /><g transform="rotate(-8 395 718)"><path d="M396.3,706.3 Q387.2,710.2 391.1,720.6 Q401.5,723.2 397.6,731.0" fill="none" /></g><path d="M480,730 L510,710 L640,655 L690,620 L720,610 L745,630 L750,700 L755,720 L735,760 L640,840 L615,875 L590,875 L555,850 L545,815 L490,810 L478,790Z" fill="#fff" /><path d="M540,730 L700,650 M560,762 L720,682 M545,815 L640,762 L738,720 M690,620 L720,700 M530,728 l50,50 M640,655 l30,40" fill="none" /><ellipse cx="500" cy="775" rx="8" ry="8" fill="none" /><ellipse cx="718" cy="650" rx="8" ry="14" fill="none" /><ellipse cx="598" cy="835" rx="10" ry="12" fill="none" /><ellipse cx="705" cy="838" rx="14" ry="26" fill="#fff" transform="rotate(-20 705 838)" /><g transform="rotate(-20 705 838)"><path d="M706.4,826.3 Q696.6,830.2 700.8,840.6 Q712.0,843.2 707.8,851.0" fill="none" /></g><path d="M789.4,849.5 L765.5,839.3 L755.0,845.3 L778.9,855.5Z" fill="#fff" /><path d="M765.5,839.3 L761.0,809.7 L750.5,815.7 L755.0,845.3Z" fill="#fff" /><path d="M761.0,809.7 L780.6,790.5 L770.1,796.5 L750.5,815.7Z" fill="#fff" /><path d="M809.0,830.3 L789.4,849.5 L765.5,839.3 L761.0,809.7 L780.6,790.5 L804.5,800.7Z" fill="#fff" /><ellipse cx="785" cy="820" rx="10.709999999999999" ry="12.6" fill="none" /><path d="M398,130 L398,225" fill="none" /><path d="M568,180 L568,295" fill="none" /><path d="M665,165 L665,265" fill="none" /><path d="M128,290 L128,395" fill="none" /><path d="M240,265 L240,365" fill="none" /><path d="M185,455 L185,540" fill="none" /><path d="M510,545 L562,488" fill="none" /><path d="M762,475 L762,550" fill="none" /><path d="M920,470 L920,555" fill="none" /><path d="M1040,425 L1040,540" fill="none" /><path d="M310,775 L288,850" fill="none" /><path d="M395,745 L400,855" fill="none" /><path d="M588,880 L588,985" fill="none" /><path d="M708,885 L708,985" fill="none" /><path d="M795,870 L795,985" fill="none" /><path d="M975,760 L975,870" fill="none" /><path d="M1100,810 L1190,865" fill="none" /></g>
<g transform="translate(680,900) scale(0.25)" stroke-width="7.00" ><path d="M190,465 L962,287 L985,342 L185,540Z" fill="#fff" /><path d="M965,265 L1330,165 L1345,210 L995,355 Q960,320 965,265Z" fill="#fff" /><path d="M1005,275 Q975,310 1010,340 M1075,245 l12,40 M1305,195 l5,25" fill="none" /><g transform="translate(1335,180) rotate(-16.5)"><path d="M0,-14.0 L28.2,-14.0 A4.9,14.0 0 0 1 28.2,14.0 L0,14.0 A4.9,14.0 0 0 1 0,-14.0Z" fill="#fff" /><path d="M0,-14.0 A4.9,14.0 0 0 1 0,14.0" fill="none" /></g><ellipse cx="1385" cy="175" rx="12" ry="13" fill="#fff" /><path d="M1330,185 q10,-8 5,10" fill="none" /><path d="M108,565 L118,745 L148,745 L165,520Z" fill="#fff" /><g transform="translate(88,528) rotate(-9.2)"><path d="M0,-39.0 L37.5,-39.0 A11.7,39.0 0 0 1 37.5,39.0 L0,39.0 A11.7,39.0 0 0 1 0,-39.0Z" fill="#fff" /><path d="M0,-39.0 A11.7,39.0 0 0 1 0,39.0" fill="none" /></g><ellipse cx="85" cy="528" rx="12" ry="22" fill="none" /><path d="M125,447 L175,440 L195,500 L165,522 L125,520Z" fill="#fff" /><path d="M133.9,477.1 L122.0,477.1 L117.1,479.9 L129.0,479.9Z" fill="#fff" /><path d="M122.0,477.1 L116.1,465.0 L111.2,467.8 L117.1,479.9Z" fill="#fff" /><path d="M116.1,465.0 L122.0,452.9 L117.1,455.7 L111.2,467.8Z" fill="#fff" /><path d="M139.9,465.0 L133.9,477.1 L122.0,477.1 L116.1,465.0 L122.0,452.9 L133.9,452.9Z" fill="#fff" /><ellipse cx="128" cy="465" rx="4.998" ry="5.88" fill="none" /><path d="M107.1,480.4 L96.9,480.4 L92.7,482.8 L102.9,482.8Z" fill="#fff" /><path d="M96.9,480.4 L91.8,470.0 L87.6,472.4 L92.7,482.8Z" fill="#fff" /><path d="M91.8,470.0 L96.9,459.6 L92.7,462.0 L87.6,472.4Z" fill="#fff" /><path d="M112.2,470.0 L107.1,480.4 L96.9,480.4 L91.8,470.0 L96.9,459.6 L107.1,459.6Z" fill="#fff" /><ellipse cx="102" cy="470" rx="4.284" ry="5.04" fill="none" /><ellipse cx="92" cy="728" rx="12" ry="12" fill="#fff" /><ellipse cx="116" cy="727" rx="9" ry="11" fill="#fff" /><g transform="translate(940,420) rotate(-14.9)"><path d="M0,-15.0 L46.6,-15.0 A5.2,15.0 0 0 1 46.6,15.0 L0,15.0 A5.2,15.0 0 0 1 0,-15.0Z" fill="#fff" /><path d="M0,-15.0 A5.2,15.0 0 0 1 0,15.0" fill="none" /></g><path d="M955,403 L958,430" fill="none" /><path d="M968,400 L971,427" fill="none" /><path d="M939.2,428.0 L928.6,449.7 L940.6,446.7 L951.2,425.0Z" fill="#fff" /><path d="M907.4,406.3 L928.6,406.3 L940.6,403.3 L919.4,403.3Z" fill="#fff" /><path d="M928.6,406.3 L939.2,428.0 L951.2,425.0 L940.6,403.3Z" fill="#fff" /><path d="M939.2,428.0 L928.6,449.7 L907.4,449.7 L896.8,428.0 L907.4,406.3 L928.6,406.3Z" fill="#fff" /><ellipse cx="918" cy="428" rx="8.924999999999999" ry="10.5" fill="none" /><ellipse cx="878" cy="440" rx="20" ry="20" fill="#fff" /><path d="M1070,390 L1120,345 L1200,330 L1215,300 Q1245,282 1265,305 Q1272,340 1250,385 L1215,420 L1205,470 L1250,500 L1245,555 L1225,575 L1090,500 L1085,420Z" fill="#fff" /><path d="M1085,420 L1195,470 L1205,420 L1240,385 Q1260,340 1250,305 M1140,360 L1198,415 M1205,330 L1240,375" fill="none" /><ellipse cx="1108" cy="480" rx="10" ry="14" fill="none" /><ellipse cx="1215" cy="540" rx="10" ry="12" fill="none" /><ellipse cx="1237" cy="325" rx="10" ry="10" fill="#222" /><ellipse cx="1303" cy="315" rx="12" ry="26" fill="#fff" transform="rotate(-5 1303 315)" /><g transform="rotate(-5 1303 315)"><path d="M1304.2,303.3 Q1295.8,307.2 1299.4,317.6 Q1309.0,320.2 1305.4,328.0" fill="none" /></g><path d="M1369.0,330.9 L1342.8,322.6 L1331.6,329.0 L1357.8,337.3Z" fill="#fff" /><path d="M1342.8,322.6 L1335.7,291.7 L1324.5,298.1 L1331.6,329.0Z" fill="#fff" /><path d="M1335.7,291.7 L1355.0,269.1 L1343.8,275.5 L1324.5,298.1Z" fill="#fff" /><path d="M1388.3,308.3 L1369.0,330.9 L1342.8,322.6 L1335.7,291.7 L1355.0,269.1 L1381.2,277.4Z" fill="#fff" /><ellipse cx="1362" cy="300" rx="11.424" ry="13.44" fill="none" /><path d="M1042.0,640.9 L1015.8,632.6 L1004.6,639.0 L1030.8,647.3Z" fill="#fff" /><path d="M1015.8,632.6 L1008.7,601.7 L997.5,608.1 L1004.6,639.0Z" fill="#fff" /><path d="M1008.7,601.7 L1028.0,579.1 L1016.8,585.5 L997.5,608.1Z" fill="#fff" /><path d="M1061.3,618.3 L1042.0,640.9 L1015.8,632.6 L1008.7,601.7 L1028.0,579.1 L1054.2,587.4Z" fill="#fff" /><ellipse cx="1035" cy="610" rx="11.424" ry="13.44" fill="none" /><ellipse cx="1115" cy="588" rx="17" ry="28" fill="#fff" transform="rotate(-15 1115 588)" /><g transform="rotate(-15 1115 588)"><path d="M1116.7,575.4 Q1104.8,579.6 1109.9,590.8 Q1123.5,593.6 1118.4,602.0" fill="none" /></g><path d="M608,262 L608,345" fill="none" /><path d="M884,475 L884,572" fill="none" /><path d="M1303,350 L1303,435" fill="none" /><path d="M1368,340 L1388,435" fill="none" /><path d="M1025,650 L1025,735" fill="none" /><path d="M1122,625 L1125,735" fill="none" /><path d="M1232,585 L1232,735" fill="none" /></g>
<g transform="translate(0,0) scale(1)" stroke-width="1.75" ><path d="M1045.5,944 L1045.5,959.5 Q1049.5,961.5 1053.5,959.5 L1053.5,944" fill="#fff" /><ellipse cx="1049" cy="938.6" rx="6" ry="6.3" fill="#fff" /><path d="M1046,934 Q1052,936 1051,944" fill="none" /><path d="M1042.5,970.0 L1042.5,975.5 L1045.8,978.3 L1052.2,978.3 L1055.5,975.5 L1055.5,970.0 L1052.2,972.8 L1045.8,972.8 L1042.5,970.0" fill="#fff" /><path d="M1055.5,970.0 L1052.2,972.8 L1045.8,972.8 L1042.5,970.0 L1045.8,967.2 L1052.2,967.2Z" fill="#fff" /><path d="M1045.8,972.8 l0,5.5 M1052.2,972.8 l0,5.5" fill="none" /><path d="M1045,970 l8,0 M1047,967.5 l4,5 M1051,967.5 l-4,5" fill="none" /><g><path d="M1045.5,998 L1045.5,986.0 L1046.55,984.0 L1046.55,986 Q1049,979 1051.45,986 L1051.45,984.0 L1052.5,986.0 L1052.5,998" fill="#fff" /><path d="M1045.5,988.0 Q1049,989.75 1052.5,988.0" fill="none" /><path d="M1045.5,992.0 Q1049,993.75 1052.5,992.0" fill="none" /><path d="M1045.5,996.0 Q1049,997.75 1052.5,996.0" fill="none" /></g><path d="M1045.7,1005 L1045.7,1022 M1052.3,1005 L1052.3,1022" fill="none" /><g><path d="M1045.6,1037 L1045.6,1021.0 L1045.6,1019.0 L1045.6,1024 Q1049,1017 1052.4,1024 L1052.4,1019.0 L1052.4,1021.0 L1052.4,1037" fill="#fff" /><path d="M1045.6,1022.6 Q1049,1024.3 1052.4,1022.6" fill="none" /><path d="M1045.6,1025.8 Q1049,1027.5 1052.4,1025.8" fill="none" /><path d="M1045.6,1029.0 Q1049,1030.7 1052.4,1029.0" fill="none" /><path d="M1045.6,1032.2 Q1049,1033.9 1052.4,1032.2" fill="none" /><path d="M1045.6,1035.4 Q1049,1037.1000000000001 1052.4,1035.4" fill="none" /></g><path d="M1041.8,999.0 L1041.8,1005.0 L1045.4,1008.1 L1052.6,1008.1 L1056.2,1005.0 L1056.2,999.0 L1052.6,1002.1 L1045.4,1002.1 L1041.8,999.0" fill="#fff" /><path d="M1056.2,999.0 L1052.6,1002.1 L1045.4,1002.1 L1041.8,999.0 L1045.4,995.9 L1052.6,995.9Z" fill="#fff" /><path d="M1045.4,1002.1 l0,6.0 M1052.6,1002.1 l0,6.0" fill="none" /><path d="M1042.0,1046.0 L1042.0,1051.5 L1045.2,1054.3 L1051.8,1054.3 L1055.0,1051.5 L1055.0,1046.0 L1051.8,1048.8 L1045.2,1048.8 L1042.0,1046.0" fill="#fff" /><path d="M1055.0,1046.0 L1051.8,1048.8 L1045.2,1048.8 L1042.0,1046.0 L1045.2,1043.2 L1051.8,1043.2Z" fill="#fff" /><path d="M1045.2,1048.8 l0,5.5 M1051.8,1048.8 l0,5.5" fill="none" /><path d="M1044.5,1046 l8,0 M1046.5,1043.5 l4,5 M1050.5,1043.5 l-4,5" fill="none" /><path d="M1045.5,1078 L1045.5,1061 Q1049.5,1058.5 1053.5,1061 L1053.5,1078" fill="#fff" /><ellipse cx="1049.4" cy="1082" rx="6" ry="6.3" fill="#fff" /><ellipse cx="1049.5" cy="1061" rx="4" ry="1.6" fill="none" /><path d="M1056.5,947.8 L1080,947.8" fill="none" /><path d="M1056.5,972.2 L1080,972.2" fill="none" /><path d="M1056.5,1002.2 L1080,1002.2" fill="none" /><path d="M1056.5,1048.5 L1080,1048.5" fill="none" /><path d="M1056.5,1078 L1080,1078" fill="none" /></g>
<g class="tx" style="stroke-linejoin:round;opacity:0.999"><text transform="translate(1051.1,66.7) scale(0.88,1)" font-size="22" stroke="#111" stroke-width="0.25">38</text><text transform="translate(1051.1,90.0) scale(0.88,1)" font-size="22" stroke="#111" stroke-width="0.25">37</text><text transform="translate(1051.1,130.0) scale(0.88,1)" font-size="22" stroke="#111" stroke-width="0.25">36</text><text transform="translate(1062.8,323.5) scale(0.88,1)" font-size="22" stroke="#111" stroke-width="0.25">2</text><text transform="translate(515.1,306.0) scale(0.88,1)" font-size="22" stroke="#111" stroke-width="0.25">35</text><text transform="translate(766.6,408.0) scale(0.88,1)" font-size="22" stroke="#111" stroke-width="0.25">33</text><text transform="translate(470.1,378.0) scale(0.88,1)" font-size="22" stroke="#111" stroke-width="0.25">32</text><text transform="translate(470.1,406.5) scale(0.88,1)" font-size="22" stroke="#111" stroke-width="0.25">31</text><text transform="translate(426.6,508.5) scale(0.88,1)" font-size="22" stroke="#111" stroke-width="0.25">5</text><text transform="translate(426.7,530.5) scale(0.88,1)" font-size="22" stroke="#111" stroke-width="0.25">4</text><text transform="translate(1054.7,502.9) scale(0.88,1)" font-size="22" stroke="#111" stroke-width="0.25">7</text><text transform="translate(812.1,555.5) scale(0.88,1)" font-size="22" stroke="#111" stroke-width="0.25">1</text><text transform="translate(496.1,585.5) scale(0.88,1)" font-size="22" stroke="#111" stroke-width="0.25">3</text><text transform="translate(496.1,611.5) scale(0.88,1)" font-size="22" stroke="#111" stroke-width="0.25">8</text><text transform="translate(403.6,678.0) scale(1.0,1)" font-size="22" stroke="#111" stroke-width="0.25">5A</text><text transform="translate(404.2,700.0) scale(1.0,1)" font-size="22" stroke="#111" stroke-width="0.25">4A</text><text transform="translate(744.1,665.0) scale(0.88,1)" font-size="22" stroke="#111" stroke-width="0.25">9</text><text transform="translate(836.6,666.5) scale(1.0,1)" font-size="22" stroke="#111" stroke-width="0.25">6A</text><text transform="translate(601.1,766.0) scale(0.88,1)" font-size="22" stroke="#111" stroke-width="0.25">6</text><text transform="translate(594.1,790.5) scale(0.88,1)" font-size="22" stroke="#111" stroke-width="0.25">10</text><text transform="translate(593.6,811.2) scale(0.88,1)" font-size="22" stroke="#111" stroke-width="0.25">34</text><text transform="translate(593.6,832.5) scale(0.88,1)" font-size="22" stroke="#111" stroke-width="0.25">10</text><text transform="translate(982.2,655.0) scale(0.88,1)" font-size="22" stroke="#111" stroke-width="0.25">40</text><text transform="translate(1032.8,660.5) scale(0.88,1)" font-size="22" stroke="#111" stroke-width="0.25">39</text><text transform="translate(955.7,681.0) scale(0.88,1)" font-size="22" stroke="#111" stroke-width="0.25">41</text><text transform="translate(923.7,690.5) scale(0.88,1)" font-size="22" stroke="#111" stroke-width="0.7">42</text><text transform="translate(1125.2,710.5) scale(0.88,1)" font-size="22" stroke="#111" stroke-width="0.7">43</text><text transform="translate(1125.2,743.0) scale(0.88,1)" font-size="22" stroke="#111" stroke-width="0.7">44</text><text transform="translate(1125.2,765.5) scale(0.88,1)" font-size="22" stroke="#111" stroke-width="0.7">45</text><text transform="translate(935.7,821.5) scale(0.88,1)" font-size="22" stroke="#111" stroke-width="0.7">46</text><text transform="translate(488.6,929.2) scale(0.88,1)" font-size="22" stroke="#111" stroke-width="0.25">22</text><text transform="translate(530.1,942.5) scale(0.88,1)" font-size="22" stroke="#111" stroke-width="0.25">23</text><text transform="translate(557.1,938.5) scale(0.88,1)" font-size="22" stroke="#111" stroke-width="0.25">24</text><text transform="translate(608.6,982.5) scale(0.88,1)" font-size="22" stroke="#111" stroke-width="0.25">25</text><text transform="translate(422.1,969.2) scale(0.88,1)" font-size="22" stroke="#111" stroke-width="0.25">25</text><text transform="translate(449.1,963.0) scale(0.88,1)" font-size="22" stroke="#111" stroke-width="0.25">23</text><text transform="translate(433.6,1055.0) scale(0.88,1)" font-size="22" stroke="#111" stroke-width="0.25">24</text><text transform="translate(504.1,1053.5) scale(0.88,1)" font-size="22" stroke="#111" stroke-width="0.25">20</text><text transform="translate(579.6,1015.5) scale(0.88,1)" font-size="22" stroke="#111" stroke-width="0.25">19</text><text transform="translate(620.1,1014.2) scale(0.88,1)" font-size="22" stroke="#111" stroke-width="0.25">17</text><text transform="translate(650.1,1004.2) scale(0.88,1)" font-size="22" stroke="#111" stroke-width="0.25">12</text><text transform="translate(459.1,1133.5) scale(0.88,1)" font-size="22" stroke="#111" stroke-width="0.25">17</text><text transform="translate(489.1,1133.0) scale(0.88,1)" font-size="22" stroke="#111" stroke-width="0.25">16</text><text transform="translate(537.8,1166.0) scale(0.88,1)" font-size="22" stroke="#111" stroke-width="0.25">11</text><text transform="translate(570.2,1166.0) scale(0.88,1)" font-size="22" stroke="#111" stroke-width="0.25">4</text><text transform="translate(591.1,1165.5) scale(0.88,1)" font-size="22" stroke="#111" stroke-width="0.25">18</text><text transform="translate(632.1,1135.0) scale(0.88,1)" font-size="22" stroke="#111" stroke-width="0.25">20</text><text transform="translate(694.1,1133.5) scale(0.88,1)" font-size="22" stroke="#111" stroke-width="0.25">21</text><text transform="translate(820.1,962.5) scale(0.88,1)" font-size="22" stroke="#111" stroke-width="0.7">15</text><text transform="translate(892.1,1062.5) scale(0.88,1)" font-size="22" stroke="#111" stroke-width="0.25">14</text><text transform="translate(993.6,1026.5) scale(0.88,1)" font-size="22" stroke="#111" stroke-width="0.25">16</text><text transform="translate(1022.1,1027.5) scale(0.88,1)" font-size="22" stroke="#111" stroke-width="0.25">17</text><text transform="translate(926.6,1103.0) scale(0.88,1)" font-size="22" stroke="#111" stroke-width="0.25">18</text><text transform="translate(953.7,1103.0) scale(0.88,1)" font-size="22" stroke="#111" stroke-width="0.25">4</text><text transform="translate(979.1,1103.5) scale(0.88,1)" font-size="22" stroke="#111" stroke-width="0.25">13</text><text transform="translate(1081.9,953.9) scale(0.88,1)" font-size="22" stroke="#111" stroke-width="0.25">28</text><text transform="translate(1081.9,980.2) scale(0.88,1)" font-size="22" stroke="#111" stroke-width="0.25">30</text><text transform="translate(1082.8,1009.5) scale(0.88,1)" font-size="22" stroke="#111" stroke-width="0.25">26</text><text transform="translate(1082.8,1054.2) scale(0.88,1)" font-size="22" stroke="#111" stroke-width="0.25">29</text><text transform="translate(1083.8,1085.2) scale(0.88,1)" font-size="22" stroke="#111" stroke-width="0.25">27</text></g>
</g>
</svg>
</body></html>
